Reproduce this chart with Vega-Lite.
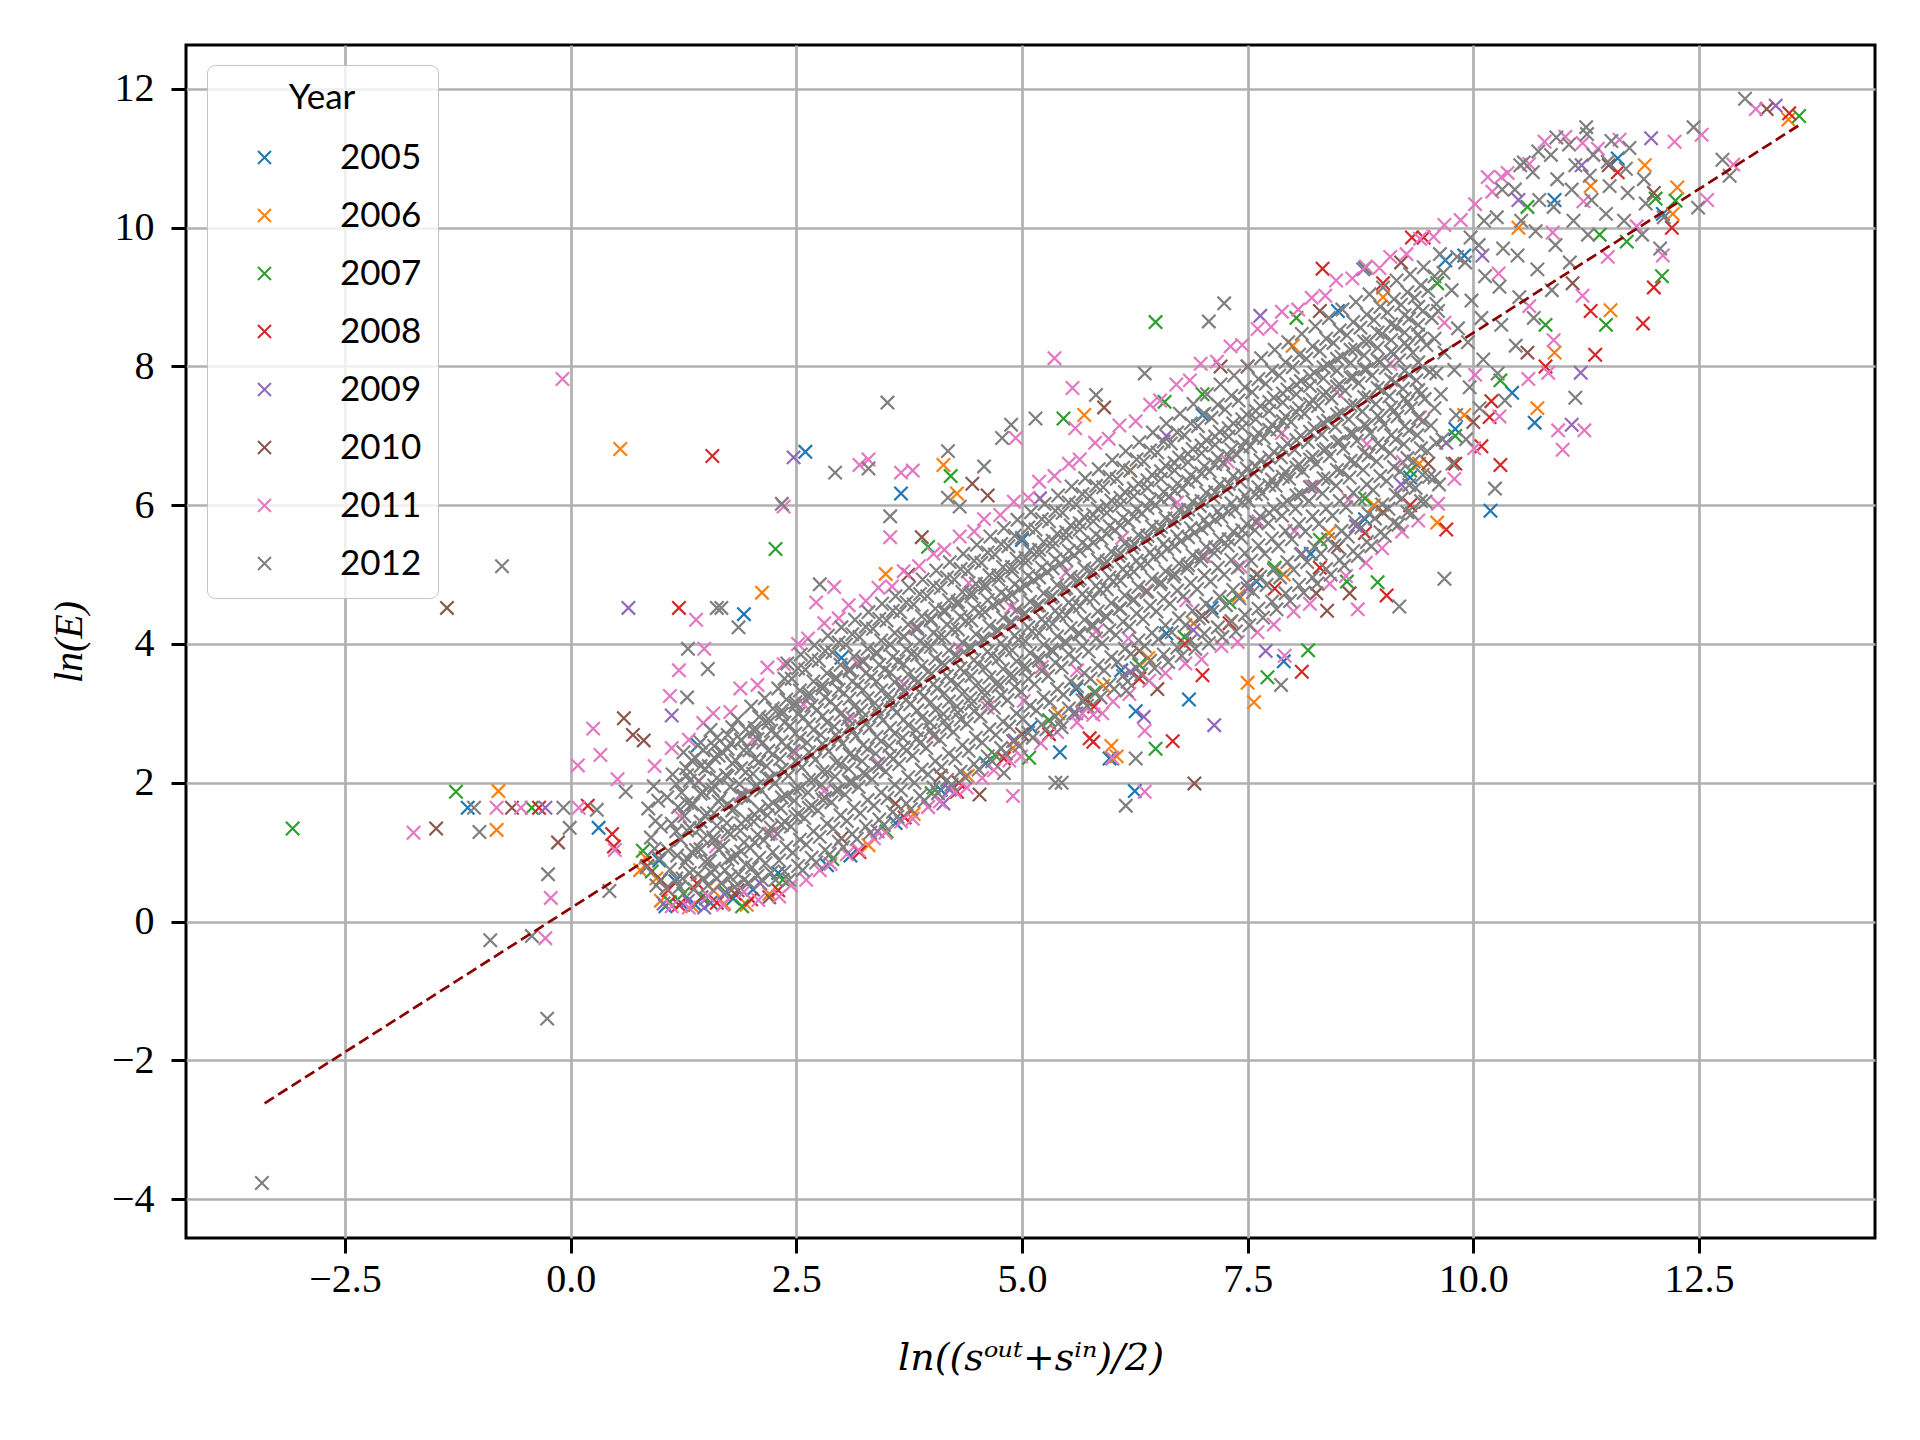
{"$schema":"https://vega.github.io/schema/vega-lite/v6.json","width":1689,"height":1193,"autosize":{"type":"none"},"padding":{"left":186,"top":45,"right":45,"bottom":202},"background":"white",
"config":{"view":{"stroke":"black","strokeWidth":3},"axis":{"domain":false,"grid":true,"gridColor":"#b0b0b0","gridWidth":2.7,"tickColor":"black","tickSize":15,"tickWidth":3,"labelFont":"Liberation Serif","labelFontSize":40,"labelColor":"black","titleFont":"Liberation Serif","titleFontSize":40,"titleFontWeight":"normal","titleFontStyle":"italic","titleColor":"black","labelFlush":false,"labelOverlap":false,"zindex":1}},
"datasets":{"fit":[{"x":-3.39,"y":-2.62},{"x":13.6,"y":11.47}],
"pts":[
{"x":2.6,"y":6.77,"g":2005},{"x":3.66,"y":6.17,"g":2005},{"x":1.92,"y":4.43,"g":2005},{"x":-1.14,"y":1.64,"g":2005},{"x":5.42,"y":2.44,"g":2005},{"x":6.25,"y":1.88,"g":2005},{"x":5.97,"y":2.35,"g":2005},{"x":6.26,"y":3.03,"g":2005},{"x":10.68,"y":7.19,"g":2005},{"x":10.43,"y":7.62,"g":2005},{"x":10.19,"y":5.92,"g":2005},{"x":9.69,"y":9.53,"g":2005},{"x":1.41,"y":2.54,"g":2005},{"x":0.31,"y":1.35,"g":2005},{"x":2.84,"y":0.81,"g":2005},{"x":1.23,"y":0.26,"g":2005},{"x":1.38,"y":0.24,"g":2005},{"x":1.05,"y":0.22,"g":2005},{"x":1.55,"y":0.27,"g":2005},{"x":1.8,"y":0.33,"g":2005},{"x":2.02,"y":0.46,"g":2005},{"x":1.16,"y":0.58,"g":2005},{"x":2.3,"y":0.7,"g":2005},{"x":0.98,"y":0.88,"g":2005},{"x":3.1,"y":0.95,"g":2005},{"x":3.6,"y":1.42,"g":2005},{"x":4.1,"y":1.9,"g":2005},{"x":4.6,"y":2.28,"g":2005},{"x":5.1,"y":2.8,"g":2005},{"x":5.6,"y":3.35,"g":2005},{"x":6.1,"y":3.62,"g":2005},{"x":6.6,"y":4.15,"g":2005},{"x":7.1,"y":4.52,"g":2005},{"x":7.6,"y":4.9,"g":2005},{"x":8.2,"y":5.3,"g":2005},{"x":8.8,"y":5.8,"g":2005},{"x":9.3,"y":6.4,"g":2005},{"x":9.8,"y":7.1,"g":2005},{"x":3.0,"y":3.8,"g":2005},{"x":5.0,"y":5.5,"g":2005},{"x":7.0,"y":7.3,"g":2005},{"x":8.5,"y":8.8,"g":2005},{"x":9.9,"y":9.6,"g":2005},{"x":10.9,"y":10.4,"g":2005},{"x":11.6,"y":11.0,"g":2005},{"x":12.1,"y":10.2,"g":2005},{"x":7.9,"y":3.75,"g":2005},{"x":6.85,"y":3.2,"g":2005},
{"x":0.55,"y":6.81,"g":2006},{"x":-0.8,"y":1.88,"g":2006},{"x":-0.82,"y":1.32,"g":2006},{"x":2.12,"y":4.74,"g":2006},{"x":4.13,"y":6.58,"g":2006},{"x":4.28,"y":6.17,"g":2006},{"x":3.49,"y":5.01,"g":2006},{"x":5.69,"y":7.3,"g":2006},{"x":5.99,"y":2.53,"g":2006},{"x":7.5,"y":3.44,"g":2006},{"x":7.57,"y":3.16,"g":2006},{"x":10.71,"y":7.4,"g":2006},{"x":11.52,"y":8.81,"g":2006},{"x":12.26,"y":10.58,"g":2006},{"x":12.21,"y":10.2,"g":2006},{"x":13.49,"y":11.56,"g":2006},{"x":0.77,"y":0.74,"g":2006},{"x":6.05,"y":2.38,"g":2006},{"x":1.0,"y":0.3,"g":2006},{"x":1.35,"y":0.22,"g":2006},{"x":1.7,"y":0.26,"g":2006},{"x":2.2,"y":0.4,"g":2006},{"x":0.95,"y":0.62,"g":2006},{"x":1.58,"y":0.45,"g":2006},{"x":0.83,"y":0.92,"g":2006},{"x":1.95,"y":0.24,"g":2006},{"x":3.3,"y":1.1,"g":2006},{"x":3.8,"y":1.55,"g":2006},{"x":4.4,"y":2.1,"g":2006},{"x":4.9,"y":2.5,"g":2006},{"x":5.4,"y":3.0,"g":2006},{"x":5.9,"y":3.4,"g":2006},{"x":6.4,"y":3.8,"g":2006},{"x":6.9,"y":4.3,"g":2006},{"x":7.4,"y":4.7,"g":2006},{"x":7.9,"y":5.0,"g":2006},{"x":8.4,"y":5.6,"g":2006},{"x":8.9,"y":6.0,"g":2006},{"x":9.4,"y":6.6,"g":2006},{"x":9.9,"y":7.3,"g":2006},{"x":6.2,"y":6.5,"g":2006},{"x":8.0,"y":8.3,"g":2006},{"x":9.0,"y":9.0,"g":2006},{"x":10.5,"y":10.0,"g":2006},{"x":11.3,"y":10.6,"g":2006},{"x":11.9,"y":10.9,"g":2006},{"x":9.6,"y":5.75,"g":2006},{"x":10.9,"y":8.2,"g":2006},
{"x":-3.08,"y":1.34,"g":2007},{"x":-1.27,"y":1.87,"g":2007},{"x":-0.43,"y":1.64,"g":2007},{"x":2.27,"y":5.37,"g":2007},{"x":4.21,"y":6.42,"g":2007},{"x":3.96,"y":5.4,"g":2007},{"x":5.46,"y":7.25,"g":2007},{"x":6.58,"y":7.49,"g":2007},{"x":5.08,"y":2.36,"g":2007},{"x":6.48,"y":2.49,"g":2007},{"x":7.72,"y":3.52,"g":2007},{"x":8.17,"y":3.91,"g":2007},{"x":8.94,"y":4.89,"g":2007},{"x":11.47,"y":8.6,"g":2007},{"x":12.09,"y":9.3,"g":2007},{"x":12.24,"y":10.39,"g":2007},{"x":12.02,"y":10.42,"g":2007},{"x":13.61,"y":11.61,"g":2007},{"x":8.04,"y":8.7,"g":2007},{"x":8.8,"y":9.42,"g":2007},{"x":6.48,"y":8.64,"g":2007},{"x":6.0,"y":2.35,"g":2007},{"x":1.1,"y":0.28,"g":2007},{"x":1.5,"y":0.33,"g":2007},{"x":1.9,"y":0.22,"g":2007},{"x":2.35,"y":0.6,"g":2007},{"x":0.9,"y":0.72,"g":2007},{"x":1.25,"y":0.4,"g":2007},{"x":0.8,"y":1.02,"g":2007},{"x":1.72,"y":0.42,"g":2007},{"x":2.9,"y":0.9,"g":2007},{"x":3.5,"y":1.3,"g":2007},{"x":4.0,"y":1.85,"g":2007},{"x":4.7,"y":2.4,"g":2007},{"x":5.3,"y":2.9,"g":2007},{"x":5.8,"y":3.3,"g":2007},{"x":6.3,"y":3.7,"g":2007},{"x":6.8,"y":4.1,"g":2007},{"x":7.3,"y":4.6,"g":2007},{"x":7.8,"y":5.1,"g":2007},{"x":8.3,"y":5.5,"g":2007},{"x":8.8,"y":6.1,"g":2007},{"x":9.3,"y":6.5,"g":2007},{"x":9.8,"y":7.0,"g":2007},{"x":10.3,"y":7.8,"g":2007},{"x":10.8,"y":8.6,"g":2007},{"x":11.4,"y":9.9,"g":2007},{"x":7.0,"y":7.6,"g":2007},{"x":9.6,"y":9.2,"g":2007},{"x":10.6,"y":10.3,"g":2007},{"x":11.7,"y":9.8,"g":2007},{"x":8.6,"y":4.9,"g":2007},
{"x":1.57,"y":6.71,"g":2008},{"x":1.2,"y":4.52,"g":2008},{"x":-0.35,"y":1.64,"g":2008},{"x":0.19,"y":1.67,"g":2008},{"x":0.46,"y":1.26,"g":2008},{"x":5.75,"y":2.64,"g":2008},{"x":6.67,"y":2.6,"g":2008},{"x":4.28,"y":1.87,"g":2008},{"x":8.33,"y":9.41,"g":2008},{"x":9.32,"y":9.86,"g":2008},{"x":9.45,"y":9.86,"g":2008},{"x":11.88,"y":8.62,"g":2008},{"x":12.0,"y":9.14,"g":2008},{"x":11.35,"y":8.17,"g":2008},{"x":10.09,"y":6.85,"g":2008},{"x":10.3,"y":6.58,"g":2008},{"x":10.18,"y":7.27,"g":2008},{"x":9.04,"y":4.7,"g":2008},{"x":8.1,"y":3.6,"g":2008},{"x":13.5,"y":11.65,"g":2008},{"x":5.79,"y":2.59,"g":2008},{"x":0.48,"y":1.08,"g":2008},{"x":1.2,"y":0.24,"g":2008},{"x":1.62,"y":0.27,"g":2008},{"x":2.0,"y":0.32,"g":2008},{"x":2.3,"y":0.45,"g":2008},{"x":0.85,"y":0.8,"g":2008},{"x":1.4,"y":0.55,"g":2008},{"x":1.82,"y":0.4,"g":2008},{"x":1.08,"y":0.45,"g":2008},{"x":3.2,"y":1.0,"g":2008},{"x":3.7,"y":1.5,"g":2008},{"x":4.3,"y":2.0,"g":2008},{"x":4.8,"y":2.35,"g":2008},{"x":5.3,"y":2.7,"g":2008},{"x":5.8,"y":3.1,"g":2008},{"x":6.3,"y":3.5,"g":2008},{"x":6.8,"y":4.0,"g":2008},{"x":7.3,"y":4.3,"g":2008},{"x":7.8,"y":4.8,"g":2008},{"x":8.3,"y":5.1,"g":2008},{"x":8.8,"y":5.6,"g":2008},{"x":9.3,"y":6.0,"g":2008},{"x":9.8,"y":6.6,"g":2008},{"x":10.2,"y":7.5,"g":2008},{"x":10.8,"y":8.0,"g":2008},{"x":11.3,"y":8.8,"g":2008},{"x":7.5,"y":8.0,"g":2008},{"x":9.0,"y":9.2,"g":2008},{"x":11.6,"y":10.8,"g":2008},{"x":12.2,"y":10.0,"g":2008},{"x":9.7,"y":5.65,"g":2008},{"x":7.0,"y":3.55,"g":2008},
{"x":2.47,"y":6.69,"g":2009},{"x":0.64,"y":4.52,"g":2009},{"x":1.12,"y":2.97,"g":2009},{"x":-0.28,"y":1.64,"g":2009},{"x":1.03,"y":0.26,"g":2009},{"x":4.13,"y":1.7,"g":2009},{"x":7.13,"y":2.83,"g":2009},{"x":11.19,"y":7.91,"g":2009},{"x":11.09,"y":7.16,"g":2009},{"x":11.97,"y":11.29,"g":2009},{"x":13.35,"y":11.76,"g":2009},{"x":7.64,"y":8.73,"g":2009},{"x":8.78,"y":9.4,"g":2009},{"x":1.3,"y":0.3,"g":2009},{"x":1.7,"y":0.4,"g":2009},{"x":2.1,"y":0.55,"g":2009},{"x":1.48,"y":0.2,"g":2009},{"x":3.4,"y":1.3,"g":2009},{"x":4.2,"y":1.9,"g":2009},{"x":4.9,"y":2.6,"g":2009},{"x":5.6,"y":3.0,"g":2009},{"x":6.2,"y":3.6,"g":2009},{"x":6.9,"y":4.2,"g":2009},{"x":7.5,"y":4.8,"g":2009},{"x":8.1,"y":5.3,"g":2009},{"x":8.7,"y":5.7,"g":2009},{"x":9.2,"y":6.3,"g":2009},{"x":9.7,"y":6.9,"g":2009},{"x":10.5,"y":10.4,"g":2009},{"x":11.2,"y":10.9,"g":2009},{"x":10.1,"y":9.6,"g":2009},{"x":5.2,"y":6.1,"g":2009},{"x":6.6,"y":7.0,"g":2009},{"x":7.7,"y":3.9,"g":2009},{"x":6.35,"y":2.95,"g":2009},
{"x":-1.37,"y":4.52,"g":2010},{"x":-1.49,"y":1.34,"g":2010},{"x":-0.65,"y":1.64,"g":2010},{"x":-0.14,"y":1.14,"g":2010},{"x":0.59,"y":2.93,"g":2010},{"x":0.69,"y":2.69,"g":2010},{"x":0.81,"y":2.61,"g":2010},{"x":3.89,"y":5.54,"g":2010},{"x":3.74,"y":5.0,"g":2010},{"x":4.45,"y":6.31,"g":2010},{"x":4.62,"y":6.14,"g":2010},{"x":5.91,"y":7.41,"g":2010},{"x":6.91,"y":1.99,"g":2010},{"x":8.38,"y":4.48,"g":2010},{"x":8.63,"y":4.73,"g":2010},{"x":8.26,"y":4.73,"g":2010},{"x":13.25,"y":11.71,"g":2010},{"x":4.53,"y":1.83,"g":2010},{"x":1.45,"y":0.35,"g":2010},{"x":1.85,"y":0.45,"g":2010},{"x":2.2,"y":0.35,"g":2010},{"x":1.0,"y":0.6,"g":2010},{"x":3.0,"y":1.2,"g":2010},{"x":3.6,"y":1.7,"g":2010},{"x":4.1,"y":2.1,"g":2010},{"x":5.0,"y":2.7,"g":2010},{"x":5.7,"y":3.2,"g":2010},{"x":6.3,"y":3.9,"g":2010},{"x":7.0,"y":4.4,"g":2010},{"x":7.6,"y":5.0,"g":2010},{"x":8.5,"y":5.4,"g":2010},{"x":9.0,"y":5.9,"g":2010},{"x":9.5,"y":6.6,"g":2010},{"x":10.0,"y":7.2,"g":2010},{"x":10.6,"y":8.2,"g":2010},{"x":11.1,"y":9.2,"g":2010},{"x":8.3,"y":8.8,"g":2010},{"x":9.2,"y":9.5,"g":2010},{"x":11.5,"y":10.9,"g":2010},{"x":12.0,"y":10.5,"g":2010},{"x":7.2,"y":8.0,"g":2010},{"x":6.5,"y":3.35,"g":2010},
{"x":-0.09,"y":7.82,"g":2011},{"x":3.3,"y":6.66,"g":2011},{"x":3.66,"y":6.47,"g":2011},{"x":3.79,"y":6.5,"g":2011},{"x":2.36,"y":5.98,"g":2011},{"x":1.39,"y":4.35,"g":2011},{"x":2.92,"y":4.82,"g":2011},{"x":2.72,"y":4.6,"g":2011},{"x":3.54,"y":5.54,"g":2011},{"x":1.48,"y":3.93,"g":2011},{"x":1.2,"y":3.62,"g":2011},{"x":0.25,"y":2.78,"g":2011},{"x":0.33,"y":2.4,"g":2011},{"x":0.08,"y":2.25,"g":2011},{"x":-1.74,"y":1.28,"g":2011},{"x":-0.82,"y":1.64,"g":2011},{"x":-0.55,"y":1.64,"g":2011},{"x":0.09,"y":1.64,"g":2011},{"x":0.49,"y":1.03,"g":2011},{"x":-0.22,"y":0.34,"g":2011},{"x":-0.28,"y":-0.24,"g":2011},{"x":5.36,"y":8.12,"g":2011},{"x":5.56,"y":7.69,"g":2011},{"x":4.93,"y":6.97,"g":2011},{"x":5.59,"y":7.11,"g":2011},{"x":6.36,"y":2.75,"g":2011},{"x":5.67,"y":3.0,"g":2011},{"x":5.89,"y":3.0,"g":2011},{"x":6.36,"y":1.87,"g":2011},{"x":4.9,"y":1.81,"g":2011},{"x":3.96,"y":1.65,"g":2011},{"x":10.83,"y":7.91,"g":2011},{"x":10.94,"y":7.08,"g":2011},{"x":11.23,"y":7.08,"g":2011},{"x":10.99,"y":6.8,"g":2011},{"x":8.72,"y":4.5,"g":2011},{"x":7.91,"y":3.83,"g":2011},{"x":13.13,"y":11.71,"g":2011},{"x":12.53,"y":11.34,"g":2011},{"x":12.23,"y":11.24,"g":2011},{"x":12.88,"y":10.91,"g":2011},{"x":12.59,"y":10.4,"g":2011},{"x":10.16,"y":10.73,"g":2011},{"x":10.31,"y":10.73,"g":2011},{"x":6.0,"y":2.36,"g":2011},{"x":12.1,"y":9.6,"g":2011},{"x":3.2,"y":6.58,"g":2011},{"x":1.1,"y":3.25,"g":2011},{"x":0.52,"y":2.05,"g":2011},
{"x":0.93,"y":2.24,"g":2011},{"x":1.12,"y":2.5,"g":2011},{"x":1.31,"y":2.62,"g":2011},{"x":1.47,"y":2.86,"g":2011},{"x":1.58,"y":3.0,"g":2011},{"x":1.77,"y":3.02,"g":2011},{"x":1.88,"y":3.36,"g":2011},{"x":2.07,"y":3.41,"g":2011},{"x":2.18,"y":3.66,"g":2011},{"x":2.36,"y":3.71,"g":2011},{"x":2.52,"y":4.0,"g":2011},{"x":2.63,"y":4.08,"g":2011},{"x":2.81,"y":4.3,"g":2011},{"x":2.97,"y":4.37,"g":2011},{"x":3.08,"y":4.56,"g":2011},{"x":3.27,"y":4.62,"g":2011},{"x":3.41,"y":4.81,"g":2011},{"x":3.56,"y":4.83,"g":2011},{"x":3.69,"y":5.05,"g":2011},{"x":3.86,"y":5.12,"g":2011},{"x":4.02,"y":5.3,"g":2011},{"x":4.14,"y":5.36,"g":2011},{"x":4.31,"y":5.55,"g":2011},{"x":4.47,"y":5.62,"g":2011},{"x":4.58,"y":5.8,"g":2011},{"x":4.76,"y":5.86,"g":2011},{"x":4.91,"y":6.05,"g":2011},{"x":5.07,"y":6.11,"g":2011},{"x":5.19,"y":6.34,"g":2011},{"x":5.36,"y":6.42,"g":2011},{"x":5.52,"y":6.6,"g":2011},{"x":5.64,"y":6.66,"g":2011},{"x":5.81,"y":6.9,"g":2011},{"x":5.96,"y":6.96,"g":2011},{"x":6.08,"y":7.15,"g":2011},{"x":6.26,"y":7.21,"g":2011},{"x":6.42,"y":7.45,"g":2011},{"x":6.53,"y":7.51,"g":2011},{"x":6.71,"y":7.74,"g":2011},{"x":6.86,"y":7.8,"g":2011},{"x":6.98,"y":8.04,"g":2011},{"x":7.16,"y":8.07,"g":2011},{"x":7.31,"y":8.29,"g":2011},{"x":7.44,"y":8.31,"g":2011},{"x":7.61,"y":8.54,"g":2011},{"x":7.76,"y":8.57,"g":2011},{"x":7.88,"y":8.79,"g":2011},{"x":8.06,"y":8.82,"g":2011},{"x":8.21,"y":8.99,"g":2011},{"x":8.36,"y":9.02,"g":2011},{"x":8.48,"y":9.24,"g":2011},{"x":8.66,"y":9.27,"g":2011},{"x":8.81,"y":9.44,"g":2011},{"x":8.96,"y":9.42,"g":2011},{"x":9.08,"y":9.58,"g":2011},{"x":9.26,"y":9.62,"g":2011},{"x":9.41,"y":9.84,"g":2011},{"x":9.56,"y":9.87,"g":2011},{"x":9.68,"y":10.04,"g":2011},{"x":9.86,"y":10.11,"g":2011},{"x":10.02,"y":10.34,"g":2011},{"x":10.21,"y":10.52,"g":2011},{"x":10.38,"y":10.79,"g":2011},{"x":10.62,"y":10.92,"g":2011},{"x":10.79,"y":11.24,"g":2011},{"x":11.02,"y":11.31,"g":2011},{"x":11.21,"y":11.22,"g":2011},{"x":11.38,"y":11.14,"g":2011},{"x":11.62,"y":11.27,"g":2011},
{"x":1.12,"y":0.22,"g":2011},{"x":1.31,"y":0.2,"g":2011},{"x":1.52,"y":0.37,"g":2011},{"x":1.69,"y":0.24,"g":2011},{"x":1.92,"y":0.43,"g":2011},{"x":2.08,"y":0.31,"g":2011},{"x":2.31,"y":0.36,"g":2011},{"x":2.44,"y":0.52,"g":2011},{"x":2.61,"y":0.6,"g":2011},{"x":2.76,"y":0.74,"g":2011},{"x":2.88,"y":0.83,"g":2011},{"x":3.06,"y":0.97,"g":2011},{"x":3.19,"y":1.03,"g":2011},{"x":3.36,"y":1.2,"g":2011},{"x":3.49,"y":1.28,"g":2011},{"x":3.66,"y":1.44,"g":2011},{"x":3.79,"y":1.48,"g":2011},{"x":3.96,"y":1.65,"g":2011},{"x":4.09,"y":1.73,"g":2011},{"x":4.26,"y":1.87,"g":2011},{"x":4.39,"y":1.93,"g":2011},{"x":4.56,"y":2.07,"g":2011},{"x":4.69,"y":2.18,"g":2011},{"x":4.86,"y":2.32,"g":2011},{"x":4.99,"y":2.38,"g":2011},{"x":5.21,"y":2.57,"g":2011},{"x":5.39,"y":2.73,"g":2011},{"x":5.61,"y":2.87,"g":2011},{"x":5.79,"y":2.98,"g":2011},{"x":6.01,"y":3.17,"g":2011},{"x":6.19,"y":3.28,"g":2011},{"x":6.41,"y":3.47,"g":2011},{"x":6.59,"y":3.58,"g":2011},{"x":6.81,"y":3.72,"g":2011},{"x":6.99,"y":3.78,"g":2011},{"x":7.21,"y":3.97,"g":2011},{"x":7.39,"y":4.03,"g":2011},{"x":7.61,"y":4.17,"g":2011},{"x":7.79,"y":4.28,"g":2011},{"x":8.01,"y":4.47,"g":2011},{"x":8.19,"y":4.58,"g":2011},{"x":8.41,"y":4.87,"g":2011},{"x":8.59,"y":4.98,"g":2011},{"x":8.81,"y":5.17,"g":2011},{"x":8.99,"y":5.38,"g":2011},{"x":9.21,"y":5.62,"g":2011},{"x":9.39,"y":5.78,"g":2011},{"x":9.61,"y":6.02,"g":2011},{"x":9.79,"y":6.38,"g":2011},{"x":10.01,"y":6.82,"g":2011},{"x":10.29,"y":7.28,"g":2011},{"x":10.61,"y":7.82,"g":2011},{"x":10.89,"y":8.38,"g":2011},{"x":11.21,"y":9.02,"g":2011},{"x":11.49,"y":9.58,"g":2011},{"x":11.81,"y":10.02,"g":2011},
{"x":1.21,"y":1.52,"g":2011},{"x":1.61,"y":1.08,"g":2011},{"x":1.88,"y":1.83,"g":2011},{"x":2.22,"y":1.27,"g":2011},{"x":2.49,"y":2.43,"g":2011},{"x":2.81,"y":1.88,"g":2011},{"x":3.12,"y":2.93,"g":2011},{"x":3.41,"y":2.28,"g":2011},{"x":3.69,"y":3.42,"g":2011},{"x":4.02,"y":2.67,"g":2011},{"x":4.31,"y":3.93,"g":2011},{"x":4.62,"y":3.08,"g":2011},{"x":4.88,"y":4.53,"g":2011},{"x":5.22,"y":3.67,"g":2011},{"x":5.49,"y":5.03,"g":2011},{"x":5.82,"y":4.18,"g":2011},{"x":6.11,"y":5.53,"g":2011},{"x":6.38,"y":4.77,"g":2011},{"x":6.72,"y":6.04,"g":2011},{"x":7.02,"y":5.27,"g":2011},{"x":7.28,"y":6.63,"g":2011},{"x":7.62,"y":5.77,"g":2011},{"x":7.88,"y":7.04,"g":2011},{"x":8.21,"y":6.27,"g":2011},{"x":8.49,"y":7.63,"g":2011},{"x":8.82,"y":6.88,"g":2011},{"x":9.08,"y":8.04,"g":2011},{"x":9.41,"y":7.27,"g":2011},{"x":9.68,"y":8.63,"g":2011},{"x":10.02,"y":7.88,"g":2011},{"x":10.28,"y":9.34,"g":2011},{"x":10.62,"y":8.87,"g":2011},{"x":10.88,"y":9.93,"g":2011},{"x":11.22,"y":10.38,"g":2011},{"x":1.42,"y":2.03,"g":2011},{"x":2.02,"y":2.62,"g":2011},{"x":2.58,"y":3.13,"g":2011},{"x":3.18,"y":3.72,"g":2011},{"x":3.82,"y":4.23,"g":2011},{"x":4.41,"y":4.88,"g":2011},{"x":5.02,"y":3.18,"g":2011},{"x":5.61,"y":3.62,"g":2011},{"x":6.18,"y":4.08,"g":2011},{"x":6.82,"y":4.63,"g":2011},{"x":7.42,"y":5.12,"g":2011},{"x":8.02,"y":5.63,"g":2011},{"x":8.62,"y":6.08,"g":2011},{"x":9.22,"y":6.62,"g":2011},
{"x":-3.42,"y":-3.77,"g":2012},{"x":-0.26,"y":-1.4,"g":2012},{"x":-0.89,"y":-0.27,"g":2012},{"x":-0.43,"y":-0.21,"g":2012},{"x":-0.25,"y":0.68,"g":2012},{"x":0.43,"y":0.44,"g":2012},{"x":-0.01,"y":1.35,"g":2012},{"x":-1.07,"y":1.64,"g":2012},{"x":-1.01,"y":1.29,"g":2012},{"x":-0.08,"y":1.64,"g":2012},{"x":0.29,"y":1.61,"g":2012},{"x":-0.76,"y":5.12,"g":2012},{"x":1.62,"y":4.52,"g":2012},{"x":1.67,"y":4.52,"g":2012},{"x":2.93,"y":6.47,"g":2012},{"x":3.3,"y":6.53,"g":2012},{"x":3.51,"y":7.48,"g":2012},{"x":2.34,"y":6.02,"g":2012},{"x":2.76,"y":4.86,"g":2012},{"x":1.3,"y":3.93,"g":2012},{"x":1.52,"y":3.64,"g":2012},{"x":1.29,"y":3.23,"g":2012},{"x":0.61,"y":1.87,"g":2012},{"x":1.86,"y":4.24,"g":2012},{"x":4.18,"y":6.78,"g":2012},{"x":4.58,"y":6.56,"g":2012},{"x":4.18,"y":6.11,"g":2012},{"x":4.31,"y":5.98,"g":2012},{"x":3.54,"y":5.84,"g":2012},{"x":6.36,"y":7.9,"g":2012},{"x":5.82,"y":7.59,"g":2012},{"x":4.78,"y":6.97,"g":2012},{"x":4.88,"y":7.16,"g":2012},{"x":5.15,"y":7.25,"g":2012},{"x":6.26,"y":2.35,"g":2012},{"x":6.15,"y":1.67,"g":2012},{"x":5.37,"y":2.0,"g":2012},{"x":5.44,"y":2.0,"g":2012},{"x":4.8,"y":2.14,"g":2012},{"x":5.44,"y":2.8,"g":2012},{"x":6.16,"y":3.33,"g":2012},{"x":7.87,"y":3.41,"g":2012},{"x":9.68,"y":4.94,"g":2012},{"x":9.18,"y":4.54,"g":2012},{"x":11.13,"y":7.55,"g":2012},{"x":10.24,"y":6.24,"g":2012},{"x":10.35,"y":7.51,"g":2012},{"x":13.01,"y":11.86,"g":2012},{"x":12.44,"y":11.45,"g":2012},{"x":12.76,"y":10.98,"g":2012},{"x":12.84,"y":10.75,"g":2012},{"x":12.49,"y":10.29,"g":2012},{"x":11.25,"y":11.45,"g":2012},{"x":10.56,"y":10.94,"g":2012},{"x":7.24,"y":8.91,"g":2012},{"x":7.07,"y":8.65,"g":2012},
{"x":0.84,"y":0.78,"g":2012},{"x":0.89,"y":1.21,"g":2012},{"x":0.86,"y":1.63,"g":2012},{"x":0.92,"y":1.95,"g":2012},{"x":0.95,"y":0.52,"g":2012},{"x":0.98,"y":0.91,"g":2012},{"x":1.0,"y":1.37,"g":2012},{"x":0.97,"y":1.74,"g":2012},
{"x":1.06,"y":0.48,"g":2012},{"x":1.1,"y":0.75,"g":2012},{"x":1.08,"y":1.02,"g":2012},{"x":1.12,"y":1.41,"g":2012},{"x":1.07,"y":1.79,"g":2012},{"x":1.13,"y":2.12,"g":2012},
{"x":1.21,"y":0.5,"g":2012},{"x":1.24,"y":0.62,"g":2012},{"x":1.27,"y":0.85,"g":2012},{"x":1.22,"y":1.18,"g":2012},{"x":1.26,"y":1.52,"g":2012},{"x":1.23,"y":1.86,"g":2012},{"x":1.28,"y":2.21,"g":2012},{"x":1.25,"y":2.44,"g":2012},
{"x":1.37,"y":0.47,"g":2012},{"x":1.41,"y":0.68,"g":2012},{"x":1.39,"y":1.03,"g":2012},{"x":1.43,"y":1.34,"g":2012},{"x":1.36,"y":1.69,"g":2012},{"x":1.42,"y":2.02,"g":2012},{"x":1.38,"y":2.36,"g":2012},{"x":1.44,"y":2.58,"g":2012},
{"x":1.52,"y":0.52,"g":2012},{"x":1.56,"y":0.7,"g":2012},{"x":1.54,"y":0.87,"g":2012},{"x":1.58,"y":1.21,"g":2012},{"x":1.51,"y":1.56,"g":2012},{"x":1.57,"y":1.9,"g":2012},{"x":1.53,"y":2.24,"g":2012},{"x":1.59,"y":2.53,"g":2012},{"x":1.55,"y":2.76,"g":2012},
{"x":1.67,"y":0.55,"g":2012},{"x":1.71,"y":0.74,"g":2012},{"x":1.69,"y":1.09,"g":2012},{"x":1.73,"y":1.42,"g":2012},{"x":1.66,"y":1.77,"g":2012},{"x":1.72,"y":2.11,"g":2012},{"x":1.68,"y":2.44,"g":2012},{"x":1.74,"y":2.69,"g":2012},
{"x":1.82,"y":0.5,"g":2012},{"x":1.86,"y":0.68,"g":2012},{"x":1.84,"y":0.96,"g":2012},{"x":1.88,"y":1.31,"g":2012},{"x":1.81,"y":1.63,"g":2012},{"x":1.87,"y":1.98,"g":2012},{"x":1.83,"y":2.32,"g":2012},{"x":1.89,"y":2.62,"g":2012},{"x":1.85,"y":2.91,"g":2012},
{"x":1.97,"y":0.56,"g":2012},{"x":2.01,"y":0.78,"g":2012},{"x":1.99,"y":1.06,"g":2012},{"x":2.03,"y":1.44,"g":2012},{"x":1.96,"y":1.78,"g":2012},{"x":2.02,"y":2.13,"g":2012},{"x":1.98,"y":2.47,"g":2012},{"x":2.04,"y":2.79,"g":2012},{"x":2.0,"y":3.1,"g":2012},
{"x":2.12,"y":0.6,"g":2012},{"x":2.16,"y":0.84,"g":2012},{"x":2.14,"y":1.17,"g":2012},{"x":2.18,"y":1.53,"g":2012},{"x":2.11,"y":1.89,"g":2012},{"x":2.17,"y":2.24,"g":2012},{"x":2.13,"y":2.58,"g":2012},{"x":2.19,"y":2.92,"g":2012},{"x":2.15,"y":3.22,"g":2012},
{"x":2.27,"y":0.6,"g":2012},{"x":2.31,"y":0.88,"g":2012},{"x":2.29,"y":1.26,"g":2012},{"x":2.33,"y":1.63,"g":2012},{"x":2.26,"y":1.99,"g":2012},{"x":2.32,"y":2.34,"g":2012},{"x":2.28,"y":2.7,"g":2012},{"x":2.34,"y":3.04,"g":2012},{"x":2.3,"y":3.36,"g":2012},
{"x":2.42,"y":0.6,"g":2012},{"x":2.46,"y":0.99,"g":2012},{"x":2.44,"y":1.37,"g":2012},{"x":2.48,"y":1.74,"g":2012},{"x":2.41,"y":2.1,"g":2012},{"x":2.47,"y":2.46,"g":2012},{"x":2.43,"y":2.82,"g":2012},{"x":2.49,"y":3.16,"g":2012},{"x":2.45,"y":3.5,"g":2012},{"x":2.4,"y":3.72,"g":2012},
{"x":2.57,"y":0.74,"g":2012},{"x":2.61,"y":1.11,"g":2012},{"x":2.59,"y":1.49,"g":2012},{"x":2.63,"y":1.86,"g":2012},{"x":2.56,"y":2.22,"g":2012},{"x":2.62,"y":2.58,"g":2012},{"x":2.58,"y":2.94,"g":2012},{"x":2.64,"y":3.29,"g":2012},{"x":2.6,"y":3.63,"g":2012},{"x":2.55,"y":3.85,"g":2012},
{"x":2.72,"y":0.85,"g":2012},{"x":2.76,"y":1.22,"g":2012},{"x":2.74,"y":1.6,"g":2012},{"x":2.78,"y":1.97,"g":2012},{"x":2.71,"y":2.33,"g":2012},{"x":2.77,"y":2.69,"g":2012},{"x":2.73,"y":3.05,"g":2012},{"x":2.79,"y":3.41,"g":2012},{"x":2.75,"y":3.76,"g":2012},{"x":2.7,"y":3.98,"g":2012},
{"x":2.87,"y":0.97,"g":2012},{"x":2.91,"y":1.34,"g":2012},{"x":2.89,"y":1.72,"g":2012},{"x":2.93,"y":2.09,"g":2012},{"x":2.86,"y":2.45,"g":2012},{"x":2.92,"y":2.81,"g":2012},{"x":2.88,"y":3.17,"g":2012},{"x":2.94,"y":3.52,"g":2012},{"x":2.9,"y":3.88,"g":2012},{"x":2.85,"y":4.12,"g":2012},
{"x":3.02,"y":1.07,"g":2012},{"x":3.06,"y":1.45,"g":2012},{"x":3.04,"y":1.83,"g":2012},{"x":3.08,"y":2.2,"g":2012},{"x":3.01,"y":2.56,"g":2012},{"x":3.07,"y":2.92,"g":2012},{"x":3.03,"y":3.29,"g":2012},{"x":3.09,"y":3.64,"g":2012},{"x":3.05,"y":3.99,"g":2012},{"x":3.0,"y":4.24,"g":2012},
{"x":3.17,"y":1.19,"g":2012},{"x":3.21,"y":1.56,"g":2012},{"x":3.19,"y":1.94,"g":2012},{"x":3.23,"y":2.31,"g":2012},{"x":3.16,"y":2.67,"g":2012},{"x":3.22,"y":3.04,"g":2012},{"x":3.18,"y":3.4,"g":2012},{"x":3.24,"y":3.76,"g":2012},{"x":3.2,"y":4.1,"g":2012},{"x":3.15,"y":4.35,"g":2012},
{"x":3.32,"y":1.28,"g":2012},{"x":3.36,"y":1.67,"g":2012},{"x":3.34,"y":2.05,"g":2012},{"x":3.38,"y":2.42,"g":2012},{"x":3.31,"y":2.79,"g":2012},{"x":3.37,"y":3.15,"g":2012},{"x":3.33,"y":3.52,"g":2012},{"x":3.39,"y":3.88,"g":2012},{"x":3.35,"y":4.22,"g":2012},{"x":3.3,"y":4.46,"g":2012},
{"x":3.47,"y":1.39,"g":2012},{"x":3.51,"y":1.78,"g":2012},{"x":3.49,"y":2.16,"g":2012},{"x":3.53,"y":2.53,"g":2012},{"x":3.46,"y":2.9,"g":2012},{"x":3.52,"y":3.27,"g":2012},{"x":3.48,"y":3.63,"g":2012},{"x":3.54,"y":3.99,"g":2012},{"x":3.5,"y":4.34,"g":2012},{"x":3.45,"y":4.58,"g":2012},
{"x":3.62,"y":1.51,"g":2012},{"x":3.66,"y":1.89,"g":2012},{"x":3.64,"y":2.27,"g":2012},{"x":3.68,"y":2.65,"g":2012},{"x":3.61,"y":3.01,"g":2012},{"x":3.67,"y":3.38,"g":2012},{"x":3.63,"y":3.75,"g":2012},{"x":3.69,"y":4.1,"g":2012},{"x":3.65,"y":4.46,"g":2012},{"x":3.6,"y":4.69,"g":2012},
{"x":3.77,"y":1.62,"g":2012},{"x":3.81,"y":2.0,"g":2012},{"x":3.79,"y":2.39,"g":2012},{"x":3.83,"y":2.76,"g":2012},{"x":3.76,"y":3.13,"g":2012},{"x":3.82,"y":3.5,"g":2012},{"x":3.78,"y":3.86,"g":2012},{"x":3.84,"y":4.22,"g":2012},{"x":3.8,"y":4.57,"g":2012},{"x":3.75,"y":4.81,"g":2012},
{"x":3.92,"y":1.74,"g":2012},{"x":3.96,"y":2.12,"g":2012},{"x":3.94,"y":2.5,"g":2012},{"x":3.98,"y":2.87,"g":2012},{"x":3.91,"y":3.24,"g":2012},{"x":3.97,"y":3.61,"g":2012},{"x":3.93,"y":3.98,"g":2012},{"x":3.99,"y":4.34,"g":2012},{"x":3.95,"y":4.69,"g":2012},{"x":3.9,"y":4.93,"g":2012},
{"x":4.07,"y":1.85,"g":2012},{"x":4.11,"y":2.23,"g":2012},{"x":4.09,"y":2.62,"g":2012},{"x":4.13,"y":2.99,"g":2012},{"x":4.06,"y":3.36,"g":2012},{"x":4.12,"y":3.73,"g":2012},{"x":4.08,"y":4.1,"g":2012},{"x":4.14,"y":4.46,"g":2012},{"x":4.1,"y":4.81,"g":2012},{"x":4.05,"y":5.06,"g":2012},
{"x":4.22,"y":1.97,"g":2012},{"x":4.26,"y":2.35,"g":2012},{"x":4.24,"y":2.73,"g":2012},{"x":4.28,"y":3.1,"g":2012},{"x":4.21,"y":3.47,"g":2012},{"x":4.27,"y":3.84,"g":2012},{"x":4.23,"y":4.21,"g":2012},{"x":4.29,"y":4.57,"g":2012},{"x":4.25,"y":4.93,"g":2012},{"x":4.2,"y":5.18,"g":2012},
{"x":4.37,"y":2.08,"g":2012},{"x":4.41,"y":2.46,"g":2012},{"x":4.39,"y":2.85,"g":2012},{"x":4.43,"y":3.22,"g":2012},{"x":4.36,"y":3.59,"g":2012},{"x":4.42,"y":3.96,"g":2012},{"x":4.38,"y":4.33,"g":2012},{"x":4.44,"y":4.69,"g":2012},{"x":4.4,"y":5.05,"g":2012},{"x":4.35,"y":5.3,"g":2012},
{"x":4.52,"y":2.19,"g":2012},{"x":4.56,"y":2.58,"g":2012},{"x":4.54,"y":2.96,"g":2012},{"x":4.58,"y":3.34,"g":2012},{"x":4.51,"y":3.71,"g":2012},{"x":4.57,"y":4.08,"g":2012},{"x":4.53,"y":4.45,"g":2012},{"x":4.59,"y":4.81,"g":2012},{"x":4.55,"y":5.17,"g":2012},{"x":4.5,"y":5.43,"g":2012},
{"x":4.67,"y":2.31,"g":2012},{"x":4.71,"y":2.69,"g":2012},{"x":4.69,"y":3.08,"g":2012},{"x":4.73,"y":3.45,"g":2012},{"x":4.66,"y":3.83,"g":2012},{"x":4.72,"y":4.2,"g":2012},{"x":4.68,"y":4.56,"g":2012},{"x":4.74,"y":4.93,"g":2012},{"x":4.7,"y":5.29,"g":2012},{"x":4.65,"y":5.55,"g":2012},
{"x":4.82,"y":2.42,"g":2012},{"x":4.86,"y":2.81,"g":2012},{"x":4.84,"y":3.19,"g":2012},{"x":4.88,"y":3.57,"g":2012},{"x":4.81,"y":3.94,"g":2012},{"x":4.87,"y":4.31,"g":2012},{"x":4.83,"y":4.68,"g":2012},{"x":4.89,"y":5.05,"g":2012},{"x":4.85,"y":5.41,"g":2012},{"x":4.8,"y":5.67,"g":2012},
{"x":4.97,"y":2.53,"g":2012},{"x":5.01,"y":2.92,"g":2012},{"x":4.99,"y":3.31,"g":2012},{"x":5.03,"y":3.69,"g":2012},{"x":4.96,"y":4.06,"g":2012},{"x":5.02,"y":4.43,"g":2012},{"x":4.98,"y":4.8,"g":2012},{"x":5.04,"y":5.17,"g":2012},{"x":5.0,"y":5.53,"g":2012},{"x":4.95,"y":5.79,"g":2012},
{"x":5.12,"y":2.65,"g":2012},{"x":5.16,"y":3.04,"g":2012},{"x":5.14,"y":3.42,"g":2012},{"x":5.18,"y":3.8,"g":2012},{"x":5.11,"y":4.18,"g":2012},{"x":5.17,"y":4.55,"g":2012},{"x":5.13,"y":4.92,"g":2012},{"x":5.19,"y":5.29,"g":2012},{"x":5.15,"y":5.65,"g":2012},{"x":5.1,"y":5.9,"g":2012},
{"x":5.27,"y":2.77,"g":2012},{"x":5.31,"y":3.16,"g":2012},{"x":5.29,"y":3.54,"g":2012},{"x":5.33,"y":3.92,"g":2012},{"x":5.26,"y":4.3,"g":2012},{"x":5.32,"y":4.67,"g":2012},{"x":5.28,"y":5.04,"g":2012},{"x":5.34,"y":5.41,"g":2012},{"x":5.3,"y":5.77,"g":2012},{"x":5.25,"y":6.02,"g":2012},
{"x":5.42,"y":2.88,"g":2012},{"x":5.46,"y":3.27,"g":2012},{"x":5.44,"y":3.66,"g":2012},{"x":5.48,"y":4.04,"g":2012},{"x":5.41,"y":4.42,"g":2012},{"x":5.47,"y":4.79,"g":2012},{"x":5.43,"y":5.16,"g":2012},{"x":5.49,"y":5.53,"g":2012},{"x":5.45,"y":5.89,"g":2012},{"x":5.4,"y":6.14,"g":2012},
{"x":5.57,"y":3.0,"g":2012},{"x":5.61,"y":3.39,"g":2012},{"x":5.59,"y":3.78,"g":2012},{"x":5.63,"y":4.16,"g":2012},{"x":5.56,"y":4.54,"g":2012},{"x":5.62,"y":4.91,"g":2012},{"x":5.58,"y":5.28,"g":2012},{"x":5.64,"y":5.65,"g":2012},{"x":5.6,"y":6.01,"g":2012},{"x":5.55,"y":6.27,"g":2012},
{"x":5.72,"y":3.11,"g":2012},{"x":5.76,"y":3.5,"g":2012},{"x":5.74,"y":3.89,"g":2012},{"x":5.78,"y":4.28,"g":2012},{"x":5.71,"y":4.66,"g":2012},{"x":5.77,"y":5.03,"g":2012},{"x":5.73,"y":5.4,"g":2012},{"x":5.79,"y":5.77,"g":2012},{"x":5.75,"y":6.13,"g":2012},{"x":5.7,"y":6.39,"g":2012},
{"x":5.87,"y":3.23,"g":2012},{"x":5.91,"y":3.62,"g":2012},{"x":5.89,"y":4.01,"g":2012},{"x":5.93,"y":4.4,"g":2012},{"x":5.86,"y":4.78,"g":2012},{"x":5.92,"y":5.15,"g":2012},{"x":5.88,"y":5.52,"g":2012},{"x":5.94,"y":5.89,"g":2012},{"x":5.9,"y":6.26,"g":2012},{"x":5.85,"y":6.52,"g":2012},
{"x":6.02,"y":3.35,"g":2012},{"x":6.06,"y":3.74,"g":2012},{"x":6.04,"y":4.13,"g":2012},{"x":6.08,"y":4.51,"g":2012},{"x":6.01,"y":4.9,"g":2012},{"x":6.07,"y":5.27,"g":2012},{"x":6.03,"y":5.64,"g":2012},{"x":6.09,"y":6.01,"g":2012},{"x":6.05,"y":6.38,"g":2012},{"x":6.0,"y":6.65,"g":2012},
{"x":6.17,"y":3.46,"g":2012},{"x":6.21,"y":3.86,"g":2012},{"x":6.19,"y":4.25,"g":2012},{"x":6.23,"y":4.63,"g":2012},{"x":6.16,"y":5.02,"g":2012},{"x":6.22,"y":5.39,"g":2012},{"x":6.18,"y":5.76,"g":2012},{"x":6.24,"y":6.13,"g":2012},{"x":6.2,"y":6.5,"g":2012},{"x":6.15,"y":6.78,"g":2012},
{"x":6.32,"y":3.56,"g":2012},{"x":6.36,"y":3.97,"g":2012},{"x":6.34,"y":4.36,"g":2012},{"x":6.38,"y":4.75,"g":2012},{"x":6.31,"y":5.13,"g":2012},{"x":6.37,"y":5.51,"g":2012},{"x":6.33,"y":5.88,"g":2012},{"x":6.39,"y":6.25,"g":2012},{"x":6.35,"y":6.63,"g":2012},{"x":6.3,"y":6.91,"g":2012},
{"x":6.47,"y":3.65,"g":2012},{"x":6.51,"y":4.07,"g":2012},{"x":6.49,"y":4.47,"g":2012},{"x":6.53,"y":4.86,"g":2012},{"x":6.46,"y":5.25,"g":2012},{"x":6.52,"y":5.63,"g":2012},{"x":6.48,"y":6.0,"g":2012},{"x":6.54,"y":6.38,"g":2012},{"x":6.5,"y":6.76,"g":2012},{"x":6.45,"y":7.05,"g":2012},
{"x":6.62,"y":3.74,"g":2012},{"x":6.66,"y":4.17,"g":2012},{"x":6.64,"y":4.58,"g":2012},{"x":6.68,"y":4.97,"g":2012},{"x":6.61,"y":5.37,"g":2012},{"x":6.67,"y":5.75,"g":2012},{"x":6.63,"y":6.12,"g":2012},{"x":6.69,"y":6.5,"g":2012},{"x":6.65,"y":6.89,"g":2012},{"x":6.6,"y":7.18,"g":2012},
{"x":6.77,"y":3.83,"g":2012},{"x":6.81,"y":4.27,"g":2012},{"x":6.79,"y":4.69,"g":2012},{"x":6.83,"y":5.09,"g":2012},{"x":6.76,"y":5.48,"g":2012},{"x":6.82,"y":5.87,"g":2012},{"x":6.78,"y":6.24,"g":2012},{"x":6.84,"y":6.62,"g":2012},{"x":6.8,"y":7.01,"g":2012},{"x":6.75,"y":7.32,"g":2012},
{"x":6.92,"y":3.93,"g":2012},{"x":6.96,"y":4.37,"g":2012},{"x":6.94,"y":4.79,"g":2012},{"x":6.98,"y":5.2,"g":2012},{"x":6.91,"y":5.6,"g":2012},{"x":6.97,"y":5.99,"g":2012},{"x":6.93,"y":6.37,"g":2012},{"x":6.99,"y":6.75,"g":2012},{"x":6.95,"y":7.14,"g":2012},{"x":6.9,"y":7.46,"g":2012},
{"x":7.07,"y":4.01,"g":2012},{"x":7.11,"y":4.47,"g":2012},{"x":7.09,"y":4.9,"g":2012},{"x":7.13,"y":5.31,"g":2012},{"x":7.06,"y":5.71,"g":2012},{"x":7.12,"y":6.11,"g":2012},{"x":7.08,"y":6.49,"g":2012},{"x":7.14,"y":6.87,"g":2012},{"x":7.1,"y":7.26,"g":2012},{"x":7.05,"y":7.6,"g":2012},
{"x":7.22,"y":4.1,"g":2012},{"x":7.26,"y":4.56,"g":2012},{"x":7.24,"y":5.0,"g":2012},{"x":7.28,"y":5.42,"g":2012},{"x":7.21,"y":5.83,"g":2012},{"x":7.27,"y":6.23,"g":2012},{"x":7.23,"y":6.61,"g":2012},{"x":7.29,"y":6.99,"g":2012},{"x":7.25,"y":7.38,"g":2012},{"x":7.2,"y":7.74,"g":2012},
{"x":7.37,"y":4.18,"g":2012},{"x":7.41,"y":4.66,"g":2012},{"x":7.39,"y":5.1,"g":2012},{"x":7.43,"y":5.53,"g":2012},{"x":7.36,"y":5.94,"g":2012},{"x":7.42,"y":6.34,"g":2012},{"x":7.38,"y":6.73,"g":2012},{"x":7.44,"y":7.12,"g":2012},{"x":7.4,"y":7.51,"g":2012},{"x":7.35,"y":7.87,"g":2012},
{"x":7.52,"y":4.27,"g":2012},{"x":7.56,"y":4.75,"g":2012},{"x":7.54,"y":5.2,"g":2012},{"x":7.58,"y":5.64,"g":2012},{"x":7.51,"y":6.06,"g":2012},{"x":7.57,"y":6.46,"g":2012},{"x":7.53,"y":6.85,"g":2012},{"x":7.59,"y":7.24,"g":2012},{"x":7.55,"y":7.63,"g":2012},{"x":7.5,"y":8.0,"g":2012},
{"x":7.67,"y":4.38,"g":2012},{"x":7.71,"y":4.85,"g":2012},{"x":7.69,"y":5.3,"g":2012},{"x":7.73,"y":5.74,"g":2012},{"x":7.66,"y":6.17,"g":2012},{"x":7.72,"y":6.58,"g":2012},{"x":7.68,"y":6.97,"g":2012},{"x":7.74,"y":7.36,"g":2012},{"x":7.7,"y":7.75,"g":2012},{"x":7.65,"y":8.12,"g":2012},
{"x":7.82,"y":4.5,"g":2012},{"x":7.86,"y":4.96,"g":2012},{"x":7.84,"y":5.41,"g":2012},{"x":7.88,"y":5.85,"g":2012},{"x":7.81,"y":6.28,"g":2012},{"x":7.87,"y":6.69,"g":2012},{"x":7.83,"y":7.09,"g":2012},{"x":7.89,"y":7.48,"g":2012},{"x":7.85,"y":7.87,"g":2012},{"x":7.8,"y":8.24,"g":2012},
{"x":7.97,"y":4.62,"g":2012},{"x":8.01,"y":5.07,"g":2012},{"x":7.99,"y":5.51,"g":2012},{"x":8.03,"y":5.95,"g":2012},{"x":7.96,"y":6.38,"g":2012},{"x":8.02,"y":6.8,"g":2012},{"x":7.98,"y":7.2,"g":2012},{"x":8.04,"y":7.6,"g":2012},{"x":8.0,"y":7.99,"g":2012},{"x":7.95,"y":8.35,"g":2012},
{"x":8.12,"y":4.74,"g":2012},{"x":8.16,"y":5.18,"g":2012},{"x":8.14,"y":5.62,"g":2012},{"x":8.18,"y":6.06,"g":2012},{"x":8.11,"y":6.49,"g":2012},{"x":8.17,"y":6.91,"g":2012},{"x":8.13,"y":7.32,"g":2012},{"x":8.19,"y":7.72,"g":2012},{"x":8.15,"y":8.11,"g":2012},{"x":8.1,"y":8.47,"g":2012},
{"x":8.27,"y":4.87,"g":2012},{"x":8.31,"y":5.3,"g":2012},{"x":8.29,"y":5.73,"g":2012},{"x":8.33,"y":6.17,"g":2012},{"x":8.26,"y":6.6,"g":2012},{"x":8.32,"y":7.02,"g":2012},{"x":8.28,"y":7.43,"g":2012},{"x":8.34,"y":7.83,"g":2012},{"x":8.3,"y":8.22,"g":2012},{"x":8.25,"y":8.58,"g":2012},
{"x":8.42,"y":5.0,"g":2012},{"x":8.46,"y":5.42,"g":2012},{"x":8.44,"y":5.85,"g":2012},{"x":8.48,"y":6.28,"g":2012},{"x":8.41,"y":6.71,"g":2012},{"x":8.47,"y":7.13,"g":2012},{"x":8.43,"y":7.54,"g":2012},{"x":8.49,"y":7.94,"g":2012},{"x":8.45,"y":8.34,"g":2012},{"x":8.4,"y":8.7,"g":2012},
{"x":8.57,"y":5.13,"g":2012},{"x":8.61,"y":5.55,"g":2012},{"x":8.59,"y":5.97,"g":2012},{"x":8.63,"y":6.4,"g":2012},{"x":8.56,"y":6.82,"g":2012},{"x":8.62,"y":7.24,"g":2012},{"x":8.58,"y":7.65,"g":2012},{"x":8.64,"y":8.05,"g":2012},{"x":8.6,"y":8.45,"g":2012},{"x":8.55,"y":8.82,"g":2012},
{"x":8.72,"y":5.27,"g":2012},{"x":8.76,"y":5.68,"g":2012},{"x":8.74,"y":6.09,"g":2012},{"x":8.78,"y":6.51,"g":2012},{"x":8.71,"y":6.93,"g":2012},{"x":8.77,"y":7.35,"g":2012},{"x":8.73,"y":7.76,"g":2012},{"x":8.79,"y":8.16,"g":2012},{"x":8.75,"y":8.56,"g":2012},{"x":8.7,"y":8.93,"g":2012},
{"x":8.87,"y":5.41,"g":2012},{"x":8.91,"y":5.81,"g":2012},{"x":8.89,"y":6.22,"g":2012},{"x":8.93,"y":6.63,"g":2012},{"x":8.86,"y":7.04,"g":2012},{"x":8.92,"y":7.46,"g":2012},{"x":8.88,"y":7.87,"g":2012},{"x":8.94,"y":8.27,"g":2012},{"x":8.9,"y":8.67,"g":2012},{"x":8.85,"y":9.04,"g":2012},
{"x":9.02,"y":5.56,"g":2012},{"x":9.06,"y":5.95,"g":2012},{"x":9.04,"y":6.35,"g":2012},{"x":9.08,"y":6.75,"g":2012},{"x":9.01,"y":7.16,"g":2012},{"x":9.07,"y":7.57,"g":2012},{"x":9.03,"y":7.98,"g":2012},{"x":9.09,"y":8.38,"g":2012},{"x":9.05,"y":8.78,"g":2012},{"x":9.0,"y":9.14,"g":2012},
{"x":9.17,"y":5.72,"g":2012},{"x":9.21,"y":6.1,"g":2012},{"x":9.19,"y":6.49,"g":2012},{"x":9.23,"y":6.88,"g":2012},{"x":9.16,"y":7.28,"g":2012},{"x":9.22,"y":7.68,"g":2012},{"x":9.18,"y":8.09,"g":2012},{"x":9.24,"y":8.49,"g":2012},{"x":9.2,"y":8.89,"g":2012},{"x":9.15,"y":9.24,"g":2012},
{"x":9.32,"y":5.88,"g":2012},{"x":9.36,"y":6.25,"g":2012},{"x":9.34,"y":6.63,"g":2012},{"x":9.38,"y":7.01,"g":2012},{"x":9.31,"y":7.4,"g":2012},{"x":9.37,"y":7.8,"g":2012},{"x":9.33,"y":8.2,"g":2012},{"x":9.39,"y":8.6,"g":2012},{"x":9.35,"y":8.99,"g":2012},{"x":9.3,"y":9.33,"g":2012},
{"x":9.47,"y":6.05,"g":2012},{"x":9.51,"y":6.41,"g":2012},{"x":9.49,"y":6.78,"g":2012},{"x":9.53,"y":7.15,"g":2012},{"x":9.46,"y":7.53,"g":2012},{"x":9.52,"y":7.92,"g":2012},{"x":9.48,"y":8.31,"g":2012},{"x":9.54,"y":8.7,"g":2012},{"x":9.5,"y":9.09,"g":2012},{"x":9.45,"y":9.43,"g":2012},
{"x":9.62,"y":6.3,"g":2012},{"x":9.66,"y":6.95,"g":2012},{"x":9.64,"y":7.6,"g":2012},{"x":9.68,"y":8.2,"g":2012},{"x":9.61,"y":8.8,"g":2012},{"x":9.67,"y":9.35,"g":2012},{"x":9.63,"y":9.62,"g":2012},
{"x":9.77,"y":6.6,"g":2012},{"x":9.81,"y":7.3,"g":2012},{"x":9.79,"y":7.95,"g":2012},{"x":9.83,"y":8.55,"g":2012},{"x":9.76,"y":9.1,"g":2012},{"x":9.82,"y":9.58,"g":2012},
{"x":9.92,"y":6.95,"g":2012},{"x":9.96,"y":7.7,"g":2012},{"x":9.94,"y":8.35,"g":2012},{"x":9.98,"y":8.95,"g":2012},{"x":9.91,"y":9.5,"g":2012},{"x":9.97,"y":9.86,"g":2012},
{"x":10.07,"y":7.4,"g":2012},{"x":10.11,"y":8.1,"g":2012},{"x":10.09,"y":8.7,"g":2012},{"x":10.13,"y":9.3,"g":2012},{"x":10.06,"y":9.75,"g":2012},{"x":10.12,"y":10.1,"g":2012},
{"x":10.27,"y":7.9,"g":2012},{"x":10.31,"y":8.6,"g":2012},{"x":10.29,"y":9.15,"g":2012},{"x":10.33,"y":9.7,"g":2012},{"x":10.26,"y":10.15,"g":2012},{"x":10.32,"y":10.55,"g":2012},
{"x":10.47,"y":8.3,"g":2012},{"x":10.51,"y":9.0,"g":2012},{"x":10.49,"y":9.6,"g":2012},{"x":10.53,"y":10.1,"g":2012},{"x":10.46,"y":10.55,"g":2012},{"x":10.52,"y":10.9,"g":2012},
{"x":10.67,"y":8.7,"g":2012},{"x":10.71,"y":9.4,"g":2012},{"x":10.69,"y":9.95,"g":2012},{"x":10.73,"y":10.4,"g":2012},{"x":10.66,"y":10.8,"g":2012},{"x":10.72,"y":11.1,"g":2012},
{"x":10.87,"y":9.1,"g":2012},{"x":10.91,"y":9.75,"g":2012},{"x":10.89,"y":10.3,"g":2012},{"x":10.93,"y":10.7,"g":2012},{"x":10.86,"y":11.05,"g":2012},{"x":10.92,"y":11.3,"g":2012},
{"x":11.07,"y":9.5,"g":2012},{"x":11.11,"y":10.1,"g":2012},{"x":11.09,"y":10.55,"g":2012},{"x":11.13,"y":10.9,"g":2012},{"x":11.06,"y":11.2,"g":2012},
{"x":11.27,"y":9.9,"g":2012},{"x":11.31,"y":10.4,"g":2012},{"x":11.29,"y":10.75,"g":2012},{"x":11.33,"y":11.05,"g":2012},{"x":11.26,"y":11.35,"g":2012},
{"x":11.47,"y":10.2,"g":2012},{"x":11.51,"y":10.6,"g":2012},{"x":11.49,"y":10.95,"g":2012},{"x":11.53,"y":11.25,"g":2012},
{"x":11.67,"y":10.1,"g":2012},{"x":11.71,"y":10.5,"g":2012},{"x":11.69,"y":10.85,"g":2012},{"x":11.73,"y":11.15,"g":2012},
{"x":11.87,"y":9.9,"g":2012},{"x":11.91,"y":10.35,"g":2012},{"x":11.89,"y":10.7,"g":2012},{"x":12.07,"y":9.7,"g":2012},{"x":12.11,"y":10.15,"g":2012},
{"x":0.93,"y":1.05,"g":2012},{"x":0.94,"y":1.45,"g":2012},{"x":1.17,"y":0.62,"g":2012},{"x":1.18,"y":0.95,"g":2012},{"x":1.17,"y":1.3,"g":2012},{"x":1.19,"y":1.65,"g":2012},{"x":1.17,"y":1.98,"g":2012},
{"x":1.32,"y":0.7,"g":2012},{"x":1.34,"y":1.0,"g":2012},{"x":1.32,"y":1.35,"g":2012},{"x":1.34,"y":1.69,"g":2012},{"x":1.32,"y":2.03,"g":2012},{"x":1.34,"y":2.32,"g":2012},
{"x":1.47,"y":0.62,"g":2012},{"x":1.49,"y":0.86,"g":2012},{"x":1.47,"y":1.19,"g":2012},{"x":1.49,"y":1.52,"g":2012},{"x":1.47,"y":1.86,"g":2012},{"x":1.49,"y":2.2,"g":2012},{"x":1.47,"y":2.47,"g":2012},
{"x":1.62,"y":0.62,"g":2012},{"x":1.64,"y":1.04,"g":2012},{"x":1.62,"y":1.38,"g":2012},{"x":1.64,"y":1.73,"g":2012},{"x":1.62,"y":2.07,"g":2012},{"x":1.64,"y":2.39,"g":2012},{"x":1.62,"y":2.65,"g":2012},
{"x":1.77,"y":0.64,"g":2012},{"x":1.79,"y":0.92,"g":2012},{"x":1.77,"y":1.26,"g":2012},{"x":1.79,"y":1.6,"g":2012},{"x":1.77,"y":1.94,"g":2012},{"x":1.79,"y":2.28,"g":2012},{"x":1.77,"y":2.57,"g":2012},{"x":1.79,"y":2.8,"g":2012},
{"x":1.92,"y":0.6,"g":2012},{"x":1.94,"y":0.82,"g":2012},{"x":1.92,"y":1.14,"g":2012},{"x":1.94,"y":1.47,"g":2012},{"x":1.92,"y":1.81,"g":2012},{"x":1.94,"y":2.15,"g":2012},{"x":1.92,"y":2.47,"g":2012},{"x":1.94,"y":2.77,"g":2012},
{"x":2.07,"y":0.66,"g":2012},{"x":2.09,"y":0.92,"g":2012},{"x":2.07,"y":1.25,"g":2012},{"x":2.09,"y":1.61,"g":2012},{"x":2.07,"y":1.96,"g":2012},{"x":2.09,"y":2.3,"g":2012},{"x":2.07,"y":2.63,"g":2012},{"x":2.09,"y":2.95,"g":2012},
{"x":2.22,"y":0.7,"g":2012},{"x":2.24,"y":1.0,"g":2012},{"x":2.22,"y":1.35,"g":2012},{"x":2.24,"y":1.71,"g":2012},{"x":2.22,"y":2.06,"g":2012},{"x":2.24,"y":2.41,"g":2012},{"x":2.22,"y":2.75,"g":2012},{"x":2.24,"y":3.07,"g":2012},
{"x":2.37,"y":0.72,"g":2012},{"x":2.39,"y":1.07,"g":2012},{"x":2.37,"y":1.44,"g":2012},{"x":2.39,"y":1.81,"g":2012},{"x":2.37,"y":2.16,"g":2012},{"x":2.39,"y":2.52,"g":2012},{"x":2.37,"y":2.87,"g":2012},{"x":2.39,"y":3.2,"g":2012},{"x":2.37,"y":3.5,"g":2012},
{"x":2.52,"y":0.8,"g":2012},{"x":2.54,"y":1.18,"g":2012},{"x":2.52,"y":1.55,"g":2012},{"x":2.54,"y":1.92,"g":2012},{"x":2.52,"y":2.28,"g":2012},{"x":2.54,"y":2.64,"g":2012},{"x":2.52,"y":2.99,"g":2012},{"x":2.54,"y":3.33,"g":2012},{"x":2.52,"y":3.65,"g":2012},
{"x":2.67,"y":0.92,"g":2012},{"x":2.69,"y":1.3,"g":2012},{"x":2.67,"y":1.67,"g":2012},{"x":2.69,"y":2.04,"g":2012},{"x":2.67,"y":2.4,"g":2012},{"x":2.69,"y":2.76,"g":2012},{"x":2.67,"y":3.11,"g":2012},{"x":2.69,"y":3.46,"g":2012},{"x":2.67,"y":3.78,"g":2012},
{"x":2.82,"y":1.03,"g":2012},{"x":2.84,"y":1.41,"g":2012},{"x":2.82,"y":1.78,"g":2012},{"x":2.84,"y":2.15,"g":2012},{"x":2.82,"y":2.51,"g":2012},{"x":2.84,"y":2.87,"g":2012},{"x":2.82,"y":3.23,"g":2012},{"x":2.84,"y":3.58,"g":2012},{"x":2.82,"y":3.9,"g":2012},
{"x":2.97,"y":1.15,"g":2012},{"x":2.99,"y":1.53,"g":2012},{"x":2.97,"y":1.9,"g":2012},{"x":2.99,"y":2.27,"g":2012},{"x":2.97,"y":2.63,"g":2012},{"x":2.99,"y":2.99,"g":2012},{"x":2.97,"y":3.34,"g":2012},{"x":2.99,"y":3.7,"g":2012},{"x":2.97,"y":4.02,"g":2012},
{"x":3.12,"y":1.26,"g":2012},{"x":3.14,"y":1.64,"g":2012},{"x":3.12,"y":2.01,"g":2012},{"x":3.14,"y":2.38,"g":2012},{"x":3.12,"y":2.74,"g":2012},{"x":3.14,"y":3.1,"g":2012},{"x":3.12,"y":3.46,"g":2012},{"x":3.14,"y":3.82,"g":2012},{"x":3.12,"y":4.14,"g":2012},
{"x":3.27,"y":1.37,"g":2012},{"x":3.29,"y":1.75,"g":2012},{"x":3.27,"y":2.12,"g":2012},{"x":3.29,"y":2.49,"g":2012},{"x":3.27,"y":2.85,"g":2012},{"x":3.29,"y":3.22,"g":2012},{"x":3.27,"y":3.58,"g":2012},{"x":3.29,"y":3.93,"g":2012},{"x":3.27,"y":4.25,"g":2012},
{"x":3.42,"y":1.47,"g":2012},{"x":3.44,"y":1.86,"g":2012},{"x":3.42,"y":2.23,"g":2012},{"x":3.44,"y":2.6,"g":2012},{"x":3.42,"y":2.97,"g":2012},{"x":3.44,"y":3.33,"g":2012},{"x":3.42,"y":3.7,"g":2012},{"x":3.44,"y":4.05,"g":2012},{"x":3.42,"y":4.36,"g":2012},
{"x":3.57,"y":1.58,"g":2012},{"x":3.59,"y":1.97,"g":2012},{"x":3.57,"y":2.34,"g":2012},{"x":3.59,"y":2.71,"g":2012},{"x":3.57,"y":3.08,"g":2012},{"x":3.59,"y":3.45,"g":2012},{"x":3.57,"y":3.81,"g":2012},{"x":3.59,"y":4.16,"g":2012},{"x":3.57,"y":4.48,"g":2012},
{"x":3.72,"y":1.7,"g":2012},{"x":3.74,"y":2.08,"g":2012},{"x":3.72,"y":2.46,"g":2012},{"x":3.74,"y":2.83,"g":2012},{"x":3.72,"y":3.2,"g":2012},{"x":3.74,"y":3.56,"g":2012},{"x":3.72,"y":3.92,"g":2012},{"x":3.74,"y":4.28,"g":2012},{"x":3.72,"y":4.6,"g":2012},
{"x":3.87,"y":1.81,"g":2012},{"x":3.89,"y":2.19,"g":2012},{"x":3.87,"y":2.57,"g":2012},{"x":3.89,"y":2.94,"g":2012},{"x":3.87,"y":3.31,"g":2012},{"x":3.89,"y":3.68,"g":2012},{"x":3.87,"y":4.04,"g":2012},{"x":3.89,"y":4.4,"g":2012},{"x":3.87,"y":4.72,"g":2012},
{"x":4.02,"y":1.93,"g":2012},{"x":4.04,"y":2.31,"g":2012},{"x":4.02,"y":2.68,"g":2012},{"x":4.04,"y":3.05,"g":2012},{"x":4.02,"y":3.42,"g":2012},{"x":4.04,"y":3.79,"g":2012},{"x":4.02,"y":4.16,"g":2012},{"x":4.04,"y":4.51,"g":2012},{"x":4.02,"y":4.84,"g":2012},
{"x":4.17,"y":2.04,"g":2012},{"x":4.19,"y":2.42,"g":2012},{"x":4.17,"y":2.8,"g":2012},{"x":4.19,"y":3.17,"g":2012},{"x":4.17,"y":3.54,"g":2012},{"x":4.19,"y":3.91,"g":2012},{"x":4.17,"y":4.28,"g":2012},{"x":4.19,"y":4.63,"g":2012},{"x":4.17,"y":4.96,"g":2012},
{"x":4.32,"y":2.16,"g":2012},{"x":4.34,"y":2.54,"g":2012},{"x":4.32,"y":2.91,"g":2012},{"x":4.34,"y":3.28,"g":2012},{"x":4.32,"y":3.65,"g":2012},{"x":4.34,"y":4.02,"g":2012},{"x":4.32,"y":4.39,"g":2012},{"x":4.34,"y":4.75,"g":2012},{"x":4.32,"y":5.08,"g":2012},
{"x":4.47,"y":2.27,"g":2012},{"x":4.49,"y":2.65,"g":2012},{"x":4.47,"y":3.03,"g":2012},{"x":4.49,"y":3.4,"g":2012},{"x":4.47,"y":3.77,"g":2012},{"x":4.49,"y":4.14,"g":2012},{"x":4.47,"y":4.51,"g":2012},{"x":4.49,"y":4.87,"g":2012},{"x":4.47,"y":5.2,"g":2012},
{"x":4.62,"y":2.38,"g":2012},{"x":4.64,"y":2.77,"g":2012},{"x":4.62,"y":3.15,"g":2012},{"x":4.64,"y":3.52,"g":2012},{"x":4.62,"y":3.89,"g":2012},{"x":4.64,"y":4.26,"g":2012},{"x":4.62,"y":4.63,"g":2012},{"x":4.64,"y":4.99,"g":2012},{"x":4.62,"y":5.32,"g":2012},
{"x":4.77,"y":2.5,"g":2012},{"x":4.79,"y":2.88,"g":2012},{"x":4.77,"y":3.26,"g":2012},{"x":4.79,"y":3.64,"g":2012},{"x":4.77,"y":4.01,"g":2012},{"x":4.79,"y":4.38,"g":2012},{"x":4.77,"y":4.74,"g":2012},{"x":4.79,"y":5.11,"g":2012},{"x":4.77,"y":5.44,"g":2012},
{"x":4.92,"y":2.61,"g":2012},{"x":4.94,"y":3.0,"g":2012},{"x":4.92,"y":3.38,"g":2012},{"x":4.94,"y":3.75,"g":2012},{"x":4.92,"y":4.12,"g":2012},{"x":4.94,"y":4.49,"g":2012},{"x":4.92,"y":4.86,"g":2012},{"x":4.94,"y":5.23,"g":2012},{"x":4.92,"y":5.56,"g":2012},
{"x":5.07,"y":2.72,"g":2012},{"x":5.09,"y":3.11,"g":2012},{"x":5.07,"y":3.5,"g":2012},{"x":5.09,"y":3.87,"g":2012},{"x":5.07,"y":4.24,"g":2012},{"x":5.09,"y":4.61,"g":2012},{"x":5.07,"y":4.98,"g":2012},{"x":5.09,"y":5.35,"g":2012},{"x":5.07,"y":5.68,"g":2012},
{"x":5.22,"y":2.84,"g":2012},{"x":5.24,"y":3.23,"g":2012},{"x":5.22,"y":3.61,"g":2012},{"x":5.24,"y":3.99,"g":2012},{"x":5.22,"y":4.36,"g":2012},{"x":5.24,"y":4.73,"g":2012},{"x":5.22,"y":5.1,"g":2012},{"x":5.24,"y":5.47,"g":2012},{"x":5.22,"y":5.8,"g":2012},
{"x":5.37,"y":2.96,"g":2012},{"x":5.39,"y":3.35,"g":2012},{"x":5.37,"y":3.73,"g":2012},{"x":5.39,"y":4.11,"g":2012},{"x":5.37,"y":4.48,"g":2012},{"x":5.39,"y":4.85,"g":2012},{"x":5.37,"y":5.22,"g":2012},{"x":5.39,"y":5.59,"g":2012},{"x":5.37,"y":5.92,"g":2012},
{"x":5.52,"y":3.07,"g":2012},{"x":5.54,"y":3.46,"g":2012},{"x":5.52,"y":3.85,"g":2012},{"x":5.54,"y":4.23,"g":2012},{"x":5.52,"y":4.6,"g":2012},{"x":5.54,"y":4.97,"g":2012},{"x":5.52,"y":5.34,"g":2012},{"x":5.54,"y":5.71,"g":2012},{"x":5.52,"y":6.04,"g":2012},
{"x":5.67,"y":3.19,"g":2012},{"x":5.69,"y":3.58,"g":2012},{"x":5.67,"y":3.97,"g":2012},{"x":5.69,"y":4.35,"g":2012},{"x":5.67,"y":4.72,"g":2012},{"x":5.69,"y":5.09,"g":2012},{"x":5.67,"y":5.46,"g":2012},{"x":5.69,"y":5.83,"g":2012},{"x":5.67,"y":6.16,"g":2012},
{"x":5.82,"y":3.3,"g":2012},{"x":5.84,"y":3.69,"g":2012},{"x":5.82,"y":4.08,"g":2012},{"x":5.84,"y":4.47,"g":2012},{"x":5.82,"y":4.84,"g":2012},{"x":5.84,"y":5.21,"g":2012},{"x":5.82,"y":5.58,"g":2012},{"x":5.84,"y":5.95,"g":2012},{"x":5.82,"y":6.28,"g":2012},
{"x":5.97,"y":3.42,"g":2012},{"x":5.99,"y":3.81,"g":2012},{"x":5.97,"y":4.2,"g":2012},{"x":5.99,"y":4.59,"g":2012},{"x":5.97,"y":4.96,"g":2012},{"x":5.99,"y":5.33,"g":2012},{"x":5.97,"y":5.7,"g":2012},{"x":5.99,"y":6.07,"g":2012},{"x":5.97,"y":6.41,"g":2012},
{"x":6.12,"y":3.54,"g":2012},{"x":6.14,"y":3.93,"g":2012},{"x":6.12,"y":4.32,"g":2012},{"x":6.14,"y":4.7,"g":2012},{"x":6.12,"y":5.08,"g":2012},{"x":6.14,"y":5.45,"g":2012},{"x":6.12,"y":5.82,"g":2012},{"x":6.14,"y":6.19,"g":2012},{"x":6.12,"y":6.54,"g":2012},
{"x":6.27,"y":3.65,"g":2012},{"x":6.29,"y":4.05,"g":2012},{"x":6.27,"y":4.44,"g":2012},{"x":6.29,"y":4.82,"g":2012},{"x":6.27,"y":5.2,"g":2012},{"x":6.29,"y":5.57,"g":2012},{"x":6.27,"y":5.94,"g":2012},{"x":6.29,"y":6.31,"g":2012},{"x":6.27,"y":6.66,"g":2012},
{"x":6.42,"y":3.76,"g":2012},{"x":6.44,"y":4.16,"g":2012},{"x":6.42,"y":4.55,"g":2012},{"x":6.44,"y":4.94,"g":2012},{"x":6.42,"y":5.32,"g":2012},{"x":6.44,"y":5.69,"g":2012},{"x":6.42,"y":6.06,"g":2012},{"x":6.44,"y":6.44,"g":2012},{"x":6.42,"y":6.79,"g":2012},
{"x":6.57,"y":3.85,"g":2012},{"x":6.59,"y":4.27,"g":2012},{"x":6.57,"y":4.66,"g":2012},{"x":6.59,"y":5.05,"g":2012},{"x":6.57,"y":5.44,"g":2012},{"x":6.59,"y":5.81,"g":2012},{"x":6.57,"y":6.19,"g":2012},{"x":6.59,"y":6.57,"g":2012},{"x":6.57,"y":6.92,"g":2012},
{"x":6.72,"y":3.95,"g":2012},{"x":6.74,"y":4.37,"g":2012},{"x":6.72,"y":4.77,"g":2012},{"x":6.74,"y":5.16,"g":2012},{"x":6.72,"y":5.55,"g":2012},{"x":6.74,"y":5.93,"g":2012},{"x":6.72,"y":6.31,"g":2012},{"x":6.74,"y":6.69,"g":2012},{"x":6.72,"y":7.05,"g":2012},
{"x":6.87,"y":4.05,"g":2012},{"x":6.89,"y":4.48,"g":2012},{"x":6.87,"y":4.88,"g":2012},{"x":6.89,"y":5.28,"g":2012},{"x":6.87,"y":5.67,"g":2012},{"x":6.89,"y":6.05,"g":2012},{"x":6.87,"y":6.43,"g":2012},{"x":6.89,"y":6.81,"g":2012},{"x":6.87,"y":7.18,"g":2012},
{"x":7.02,"y":4.15,"g":2012},{"x":7.04,"y":4.58,"g":2012},{"x":7.02,"y":4.99,"g":2012},{"x":7.04,"y":5.4,"g":2012},{"x":7.02,"y":5.79,"g":2012},{"x":7.04,"y":6.18,"g":2012},{"x":7.02,"y":6.56,"g":2012},{"x":7.04,"y":6.94,"g":2012},{"x":7.02,"y":7.32,"g":2012},
{"x":7.17,"y":4.24,"g":2012},{"x":7.19,"y":4.68,"g":2012},{"x":7.17,"y":5.1,"g":2012},{"x":7.19,"y":5.51,"g":2012},{"x":7.17,"y":5.91,"g":2012},{"x":7.19,"y":6.3,"g":2012},{"x":7.17,"y":6.68,"g":2012},{"x":7.19,"y":7.06,"g":2012},{"x":7.17,"y":7.45,"g":2012},
{"x":7.32,"y":4.33,"g":2012},{"x":7.34,"y":4.78,"g":2012},{"x":7.32,"y":5.21,"g":2012},{"x":7.34,"y":5.62,"g":2012},{"x":7.32,"y":6.03,"g":2012},{"x":7.34,"y":6.42,"g":2012},{"x":7.32,"y":6.8,"g":2012},{"x":7.34,"y":7.18,"g":2012},{"x":7.32,"y":7.58,"g":2012},
{"x":7.47,"y":4.42,"g":2012},{"x":7.49,"y":4.88,"g":2012},{"x":7.47,"y":5.31,"g":2012},{"x":7.49,"y":5.73,"g":2012},{"x":7.47,"y":6.14,"g":2012},{"x":7.49,"y":6.53,"g":2012},{"x":7.47,"y":6.92,"g":2012},{"x":7.49,"y":7.31,"g":2012},{"x":7.47,"y":7.7,"g":2012},
{"x":7.62,"y":4.51,"g":2012},{"x":7.64,"y":4.97,"g":2012},{"x":7.62,"y":5.42,"g":2012},{"x":7.64,"y":5.84,"g":2012},{"x":7.62,"y":6.26,"g":2012},{"x":7.64,"y":6.65,"g":2012},{"x":7.62,"y":7.04,"g":2012},{"x":7.64,"y":7.43,"g":2012},{"x":7.62,"y":7.82,"g":2012},
{"x":7.77,"y":4.61,"g":2012},{"x":7.79,"y":5.07,"g":2012},{"x":7.77,"y":5.52,"g":2012},{"x":7.79,"y":5.95,"g":2012},{"x":7.77,"y":6.37,"g":2012},{"x":7.79,"y":6.77,"g":2012},{"x":7.77,"y":7.16,"g":2012},{"x":7.79,"y":7.55,"g":2012},{"x":7.77,"y":7.94,"g":2012},
{"x":7.92,"y":4.73,"g":2012},{"x":7.94,"y":5.18,"g":2012},{"x":7.92,"y":5.63,"g":2012},{"x":7.94,"y":6.06,"g":2012},{"x":7.92,"y":6.48,"g":2012},{"x":7.94,"y":6.89,"g":2012},{"x":7.92,"y":7.28,"g":2012},{"x":7.94,"y":7.67,"g":2012},{"x":7.92,"y":8.06,"g":2012},
{"x":8.07,"y":4.85,"g":2012},{"x":8.09,"y":5.29,"g":2012},{"x":8.07,"y":5.73,"g":2012},{"x":8.09,"y":6.16,"g":2012},{"x":8.07,"y":6.59,"g":2012},{"x":8.09,"y":7.0,"g":2012},{"x":8.07,"y":7.4,"g":2012},{"x":8.09,"y":7.79,"g":2012},{"x":8.07,"y":8.17,"g":2012},
{"x":8.22,"y":4.96,"g":2012},{"x":8.24,"y":5.4,"g":2012},{"x":8.22,"y":5.84,"g":2012},{"x":8.24,"y":6.27,"g":2012},{"x":8.22,"y":6.7,"g":2012},{"x":8.24,"y":7.11,"g":2012},{"x":8.22,"y":7.52,"g":2012},{"x":8.24,"y":7.91,"g":2012},{"x":8.22,"y":8.29,"g":2012},
{"x":8.37,"y":5.08,"g":2012},{"x":8.39,"y":5.51,"g":2012},{"x":8.37,"y":5.95,"g":2012},{"x":8.39,"y":6.38,"g":2012},{"x":8.37,"y":6.81,"g":2012},{"x":8.39,"y":7.22,"g":2012},{"x":8.37,"y":7.63,"g":2012},{"x":8.39,"y":8.02,"g":2012},{"x":8.37,"y":8.4,"g":2012},
{"x":8.52,"y":5.21,"g":2012},{"x":8.54,"y":5.63,"g":2012},{"x":8.52,"y":6.06,"g":2012},{"x":8.54,"y":6.49,"g":2012},{"x":8.52,"y":6.92,"g":2012},{"x":8.54,"y":7.33,"g":2012},{"x":8.52,"y":7.74,"g":2012},{"x":8.54,"y":8.14,"g":2012},{"x":8.52,"y":8.52,"g":2012},
{"x":8.67,"y":5.34,"g":2012},{"x":8.69,"y":5.76,"g":2012},{"x":8.67,"y":6.18,"g":2012},{"x":8.69,"y":6.61,"g":2012},{"x":8.67,"y":7.03,"g":2012},{"x":8.69,"y":7.44,"g":2012},{"x":8.67,"y":7.85,"g":2012},{"x":8.69,"y":8.25,"g":2012},{"x":8.67,"y":8.64,"g":2012},
{"x":8.82,"y":5.47,"g":2012},{"x":8.84,"y":5.88,"g":2012},{"x":8.82,"y":6.3,"g":2012},{"x":8.84,"y":6.72,"g":2012},{"x":8.82,"y":7.14,"g":2012},{"x":8.84,"y":7.55,"g":2012},{"x":8.82,"y":7.96,"g":2012},{"x":8.84,"y":8.36,"g":2012},{"x":8.82,"y":8.75,"g":2012},
{"x":8.97,"y":5.61,"g":2012},{"x":8.99,"y":6.01,"g":2012},{"x":8.97,"y":6.42,"g":2012},{"x":8.99,"y":6.84,"g":2012},{"x":8.97,"y":7.25,"g":2012},{"x":8.99,"y":7.66,"g":2012},{"x":8.97,"y":8.07,"g":2012},{"x":8.99,"y":8.47,"g":2012},{"x":8.97,"y":8.86,"g":2012},
{"x":9.12,"y":5.75,"g":2012},{"x":9.14,"y":6.15,"g":2012},{"x":9.12,"y":6.55,"g":2012},{"x":9.14,"y":6.95,"g":2012},{"x":9.12,"y":7.36,"g":2012},{"x":9.14,"y":7.77,"g":2012},{"x":9.12,"y":8.18,"g":2012},{"x":9.14,"y":8.58,"g":2012},{"x":9.12,"y":8.97,"g":2012},
{"x":9.27,"y":5.9,"g":2012},{"x":9.29,"y":6.29,"g":2012},{"x":9.27,"y":6.68,"g":2012},{"x":9.29,"y":7.08,"g":2012},{"x":9.27,"y":7.48,"g":2012},{"x":9.29,"y":7.88,"g":2012},{"x":9.27,"y":8.29,"g":2012},{"x":9.29,"y":8.69,"g":2012},{"x":9.27,"y":9.07,"g":2012},
{"x":9.42,"y":6.06,"g":2012},{"x":9.44,"y":6.44,"g":2012},{"x":9.42,"y":6.82,"g":2012},{"x":9.44,"y":7.21,"g":2012},{"x":9.42,"y":7.6,"g":2012},{"x":9.44,"y":8.0,"g":2012},{"x":9.42,"y":8.4,"g":2012},{"x":9.44,"y":8.8,"g":2012},{"x":9.42,"y":9.17,"g":2012},
{"x":9.57,"y":6.4,"g":2012},{"x":9.59,"y":6.9,"g":2012},{"x":9.57,"y":7.4,"g":2012},{"x":9.59,"y":7.9,"g":2012},{"x":9.57,"y":8.4,"g":2012},{"x":9.59,"y":8.9,"g":2012},{"x":9.57,"y":9.3,"g":2012},
{"x":1.29,"y":0.91,"g":2012},{"x":1.29,"y":1.31,"g":2012},{"x":1.29,"y":1.71,"g":2012},{"x":1.29,"y":2.11,"g":2012},
{"x":1.44,"y":1.04,"g":2012},{"x":1.44,"y":1.44,"g":2012},{"x":1.44,"y":1.84,"g":2012},{"x":1.44,"y":2.24,"g":2012},
{"x":1.59,"y":0.76,"g":2012},{"x":1.59,"y":1.16,"g":2012},{"x":1.59,"y":1.56,"g":2012},{"x":1.59,"y":1.96,"g":2012},{"x":1.59,"y":2.36,"g":2012},
{"x":1.74,"y":0.89,"g":2012},{"x":1.74,"y":1.29,"g":2012},{"x":1.74,"y":1.69,"g":2012},{"x":1.74,"y":2.09,"g":2012},{"x":1.74,"y":2.49,"g":2012},
{"x":1.89,"y":1.01,"g":2012},{"x":1.89,"y":1.41,"g":2012},{"x":1.89,"y":1.81,"g":2012},{"x":1.89,"y":2.21,"g":2012},{"x":1.89,"y":2.61,"g":2012},
{"x":2.04,"y":1.14,"g":2012},{"x":2.04,"y":1.54,"g":2012},{"x":2.04,"y":1.94,"g":2012},{"x":2.04,"y":2.34,"g":2012},{"x":2.04,"y":2.74,"g":2012},
{"x":2.19,"y":1.26,"g":2012},{"x":2.19,"y":1.66,"g":2012},{"x":2.19,"y":2.06,"g":2012},{"x":2.19,"y":2.46,"g":2012},{"x":2.19,"y":2.86,"g":2012},
{"x":2.34,"y":1.39,"g":2012},{"x":2.34,"y":1.79,"g":2012},{"x":2.34,"y":2.19,"g":2012},{"x":2.34,"y":2.59,"g":2012},{"x":2.34,"y":2.99,"g":2012},
{"x":2.49,"y":1.51,"g":2012},{"x":2.49,"y":1.91,"g":2012},{"x":2.49,"y":2.31,"g":2012},{"x":2.49,"y":2.71,"g":2012},{"x":2.49,"y":3.11,"g":2012},
{"x":2.64,"y":1.64,"g":2012},{"x":2.64,"y":2.04,"g":2012},{"x":2.64,"y":2.44,"g":2012},{"x":2.64,"y":2.84,"g":2012},{"x":2.64,"y":3.24,"g":2012},
{"x":2.79,"y":1.76,"g":2012},{"x":2.79,"y":2.16,"g":2012},{"x":2.79,"y":2.56,"g":2012},{"x":2.79,"y":2.96,"g":2012},{"x":2.79,"y":3.36,"g":2012},
{"x":2.94,"y":1.89,"g":2012},{"x":2.94,"y":2.29,"g":2012},{"x":2.94,"y":2.69,"g":2012},{"x":2.94,"y":3.09,"g":2012},{"x":2.94,"y":3.49,"g":2012},
{"x":3.09,"y":2.01,"g":2012},{"x":3.09,"y":2.41,"g":2012},{"x":3.09,"y":2.81,"g":2012},{"x":3.09,"y":3.21,"g":2012},{"x":3.09,"y":3.61,"g":2012},
{"x":3.24,"y":2.14,"g":2012},{"x":3.24,"y":2.54,"g":2012},{"x":3.24,"y":2.94,"g":2012},{"x":3.24,"y":3.34,"g":2012},{"x":3.24,"y":3.74,"g":2012},
{"x":3.39,"y":2.26,"g":2012},{"x":3.39,"y":2.66,"g":2012},{"x":3.39,"y":3.06,"g":2012},{"x":3.39,"y":3.46,"g":2012},{"x":3.39,"y":3.86,"g":2012},
{"x":3.54,"y":2.39,"g":2012},{"x":3.54,"y":2.79,"g":2012},{"x":3.54,"y":3.19,"g":2012},{"x":3.54,"y":3.59,"g":2012},{"x":3.54,"y":3.99,"g":2012},
{"x":3.69,"y":2.51,"g":2012},{"x":3.69,"y":2.91,"g":2012},{"x":3.69,"y":3.31,"g":2012},{"x":3.69,"y":3.71,"g":2012},{"x":3.69,"y":4.11,"g":2012},
{"x":3.84,"y":2.64,"g":2012},{"x":3.84,"y":3.04,"g":2012},{"x":3.84,"y":3.44,"g":2012},{"x":3.84,"y":3.84,"g":2012},{"x":3.84,"y":4.24,"g":2012},
{"x":3.99,"y":2.76,"g":2012},{"x":3.99,"y":3.16,"g":2012},{"x":3.99,"y":3.56,"g":2012},{"x":3.99,"y":3.96,"g":2012},{"x":3.99,"y":4.36,"g":2012},
{"x":4.14,"y":2.89,"g":2012},{"x":4.14,"y":3.29,"g":2012},{"x":4.14,"y":3.69,"g":2012},{"x":4.14,"y":4.09,"g":2012},{"x":4.14,"y":4.49,"g":2012},
{"x":4.29,"y":3.01,"g":2012},{"x":4.29,"y":3.41,"g":2012},{"x":4.29,"y":3.81,"g":2012},{"x":4.29,"y":4.21,"g":2012},{"x":4.29,"y":4.61,"g":2012},
{"x":4.44,"y":3.14,"g":2012},{"x":4.44,"y":3.54,"g":2012},{"x":4.44,"y":3.94,"g":2012},{"x":4.44,"y":4.34,"g":2012},{"x":4.44,"y":4.74,"g":2012},
{"x":4.59,"y":3.26,"g":2012},{"x":4.59,"y":3.66,"g":2012},{"x":4.59,"y":4.06,"g":2012},{"x":4.59,"y":4.46,"g":2012},{"x":4.59,"y":4.86,"g":2012},
{"x":4.74,"y":3.39,"g":2012},{"x":4.74,"y":3.79,"g":2012},{"x":4.74,"y":4.19,"g":2012},{"x":4.74,"y":4.59,"g":2012},{"x":4.74,"y":4.99,"g":2012},
{"x":4.89,"y":3.51,"g":2012},{"x":4.89,"y":3.91,"g":2012},{"x":4.89,"y":4.31,"g":2012},{"x":4.89,"y":4.71,"g":2012},{"x":4.89,"y":5.11,"g":2012},
{"x":5.04,"y":3.64,"g":2012},{"x":5.04,"y":4.04,"g":2012},{"x":5.04,"y":4.44,"g":2012},{"x":5.04,"y":4.84,"g":2012},{"x":5.04,"y":5.24,"g":2012},
{"x":5.19,"y":3.76,"g":2012},{"x":5.19,"y":4.16,"g":2012},{"x":5.19,"y":4.56,"g":2012},{"x":5.19,"y":4.96,"g":2012},{"x":5.19,"y":5.36,"g":2012},
{"x":5.34,"y":3.89,"g":2012},{"x":5.34,"y":4.29,"g":2012},{"x":5.34,"y":4.69,"g":2012},{"x":5.34,"y":5.09,"g":2012},{"x":5.34,"y":5.49,"g":2012},
{"x":5.49,"y":4.01,"g":2012},{"x":5.49,"y":4.41,"g":2012},{"x":5.49,"y":4.81,"g":2012},{"x":5.49,"y":5.21,"g":2012},{"x":5.49,"y":5.61,"g":2012},
{"x":5.64,"y":4.14,"g":2012},{"x":5.64,"y":4.54,"g":2012},{"x":5.64,"y":4.94,"g":2012},{"x":5.64,"y":5.34,"g":2012},{"x":5.64,"y":5.74,"g":2012},
{"x":5.79,"y":4.26,"g":2012},{"x":5.79,"y":4.66,"g":2012},{"x":5.79,"y":5.06,"g":2012},{"x":5.79,"y":5.46,"g":2012},{"x":5.79,"y":5.86,"g":2012},
{"x":5.94,"y":4.39,"g":2012},{"x":5.94,"y":4.79,"g":2012},{"x":5.94,"y":5.19,"g":2012},{"x":5.94,"y":5.59,"g":2012},{"x":5.94,"y":5.99,"g":2012},
{"x":6.09,"y":4.51,"g":2012},{"x":6.09,"y":4.91,"g":2012},{"x":6.09,"y":5.31,"g":2012},{"x":6.09,"y":5.71,"g":2012},{"x":6.09,"y":6.11,"g":2012},
{"x":6.24,"y":4.64,"g":2012},{"x":6.24,"y":5.04,"g":2012},{"x":6.24,"y":5.44,"g":2012},{"x":6.24,"y":5.84,"g":2012},{"x":6.24,"y":6.24,"g":2012},
{"x":6.39,"y":4.76,"g":2012},{"x":6.39,"y":5.16,"g":2012},{"x":6.39,"y":5.56,"g":2012},{"x":6.39,"y":5.96,"g":2012},{"x":6.39,"y":6.36,"g":2012},
{"x":6.54,"y":4.89,"g":2012},{"x":6.54,"y":5.29,"g":2012},{"x":6.54,"y":5.69,"g":2012},{"x":6.54,"y":6.09,"g":2012},{"x":6.54,"y":6.49,"g":2012},
{"x":6.69,"y":5.01,"g":2012},{"x":6.69,"y":5.41,"g":2012},{"x":6.69,"y":5.81,"g":2012},{"x":6.69,"y":6.21,"g":2012},{"x":6.69,"y":6.61,"g":2012},
{"x":6.84,"y":5.14,"g":2012},{"x":6.84,"y":5.54,"g":2012},{"x":6.84,"y":5.94,"g":2012},{"x":6.84,"y":6.34,"g":2012},{"x":6.84,"y":6.74,"g":2012},
{"x":6.99,"y":5.26,"g":2012},{"x":6.99,"y":5.66,"g":2012},{"x":6.99,"y":6.06,"g":2012},{"x":6.99,"y":6.46,"g":2012},{"x":6.99,"y":6.86,"g":2012},
{"x":7.14,"y":5.39,"g":2012},{"x":7.14,"y":5.79,"g":2012},{"x":7.14,"y":6.19,"g":2012},{"x":7.14,"y":6.59,"g":2012},{"x":7.14,"y":6.99,"g":2012},
{"x":7.29,"y":5.51,"g":2012},{"x":7.29,"y":5.91,"g":2012},{"x":7.29,"y":6.31,"g":2012},{"x":7.29,"y":6.71,"g":2012},{"x":7.29,"y":7.11,"g":2012},
{"x":7.44,"y":5.64,"g":2012},{"x":7.44,"y":6.04,"g":2012},{"x":7.44,"y":6.44,"g":2012},{"x":7.44,"y":6.84,"g":2012},{"x":7.44,"y":7.24,"g":2012},
{"x":7.59,"y":5.76,"g":2012},{"x":7.59,"y":6.16,"g":2012},{"x":7.59,"y":6.56,"g":2012},{"x":7.59,"y":6.96,"g":2012},{"x":7.59,"y":7.36,"g":2012},
{"x":7.74,"y":5.89,"g":2012},{"x":7.74,"y":6.29,"g":2012},{"x":7.74,"y":6.69,"g":2012},{"x":7.74,"y":7.09,"g":2012},{"x":7.74,"y":7.49,"g":2012},
{"x":7.89,"y":6.01,"g":2012},{"x":7.89,"y":6.41,"g":2012},{"x":7.89,"y":6.81,"g":2012},{"x":7.89,"y":7.21,"g":2012},{"x":7.89,"y":7.61,"g":2012},
{"x":8.04,"y":6.14,"g":2012},{"x":8.04,"y":6.54,"g":2012},{"x":8.04,"y":6.94,"g":2012},{"x":8.04,"y":7.34,"g":2012},{"x":8.04,"y":7.74,"g":2012},
{"x":8.19,"y":6.26,"g":2012},{"x":8.19,"y":6.66,"g":2012},{"x":8.19,"y":7.06,"g":2012},{"x":8.19,"y":7.46,"g":2012},{"x":8.19,"y":7.86,"g":2012},
{"x":8.34,"y":6.39,"g":2012},{"x":8.34,"y":6.79,"g":2012},{"x":8.34,"y":7.19,"g":2012},{"x":8.34,"y":7.59,"g":2012},{"x":8.34,"y":7.99,"g":2012},
{"x":8.49,"y":6.51,"g":2012},{"x":8.49,"y":6.91,"g":2012},{"x":8.49,"y":7.31,"g":2012},{"x":8.49,"y":7.71,"g":2012},{"x":8.49,"y":8.11,"g":2012},
{"x":8.64,"y":6.64,"g":2012},{"x":8.64,"y":7.04,"g":2012},{"x":8.64,"y":7.44,"g":2012},{"x":8.64,"y":7.84,"g":2012},{"x":8.64,"y":8.24,"g":2012},
{"x":8.79,"y":6.76,"g":2012},{"x":8.79,"y":7.16,"g":2012},{"x":8.79,"y":7.56,"g":2012},{"x":8.79,"y":7.96,"g":2012},{"x":8.79,"y":8.36,"g":2012},
{"x":8.94,"y":6.89,"g":2012},{"x":8.94,"y":7.29,"g":2012},{"x":8.94,"y":7.69,"g":2012},{"x":8.94,"y":8.09,"g":2012},{"x":8.94,"y":8.49,"g":2012},
{"x":9.09,"y":7.01,"g":2012},{"x":9.09,"y":7.41,"g":2012},{"x":9.09,"y":7.81,"g":2012},{"x":9.09,"y":8.21,"g":2012},{"x":9.09,"y":8.61,"g":2012},
{"x":9.24,"y":7.14,"g":2012},{"x":9.24,"y":7.54,"g":2012},{"x":9.24,"y":7.94,"g":2012},{"x":9.24,"y":8.34,"g":2012},{"x":9.24,"y":8.74,"g":2012},
{"x":9.39,"y":7.26,"g":2012},{"x":9.39,"y":7.66,"g":2012},{"x":9.39,"y":8.06,"g":2012},{"x":9.39,"y":8.46,"g":2012},{"x":9.39,"y":8.86,"g":2012}
]},
"layer":[
{"data":{"name":"pts"},"mark":{"type":"point","shape":"M-1,-1L1,1M-1,1L1,-1","filled":false,"size":180,"strokeWidth":2.2,"opacity":1},
"encoding":{
"x":{"field":"x","type":"quantitative","scale":{"domain":[-4.261,14.45],"nice":false,"zero":false},"axis":{"values":[-2.5,0,2.5,5,7.5,10,12.5],"format":".1f","labelPadding":6,"titlePadding":40,"title":"ln((sᵒᵘᵗ+sⁱⁿ)/2)","titleFont":"DejaVu Serif","titleFontSize":38}},
"y":{"field":"y","type":"quantitative","scale":{"domain":[-4.562,12.634],"nice":false,"zero":false},"axis":{"values":[-4,-2,0,2,4,6,8,10,12],"format":"d","labelPadding":17,"titlePadding":22,"title":"ln(E)"}},
"color":{"field":"g","type":"nominal","scale":{"domain":[2005,2006,2007,2008,2009,2010,2011,2012],"range":["#1f77b4","#ff7f0e","#2ca02c","#d62728","#9467bd","#8c564b","#e377c2","#7f7f7f"]},
"legend":{"orient":"none","legendX":21,"legendY":20,"zindex":2,"title":"Year","titleFont":"Lato","titleFontSize":35,"titleFontWeight":"normal","titleColor":"black","titleAnchor":"middle","titleAlign":"center","titlePadding":24,"labelFont":"Lato","labelFontSize":35,"labelColor":"black","symbolType":"M-1,-1L1,1M-1,1L1,-1","symbolSize":170,"symbolStrokeWidth":2,"symbolOffset":24,"labelOffset":58,"rowPadding":22,"padding":16,"cornerRadius":8,"fillColor":"rgba(255,255,255,0.8)","strokeColor":"#c4c4c4"}}}},
{"data":{"name":"fit"},"mark":{"type":"line","color":"#8b0000","strokeDash":[11,5],"strokeWidth":2.7},"encoding":{"x":{"field":"x","type":"quantitative"},"y":{"field":"y","type":"quantitative"}}}
]}
